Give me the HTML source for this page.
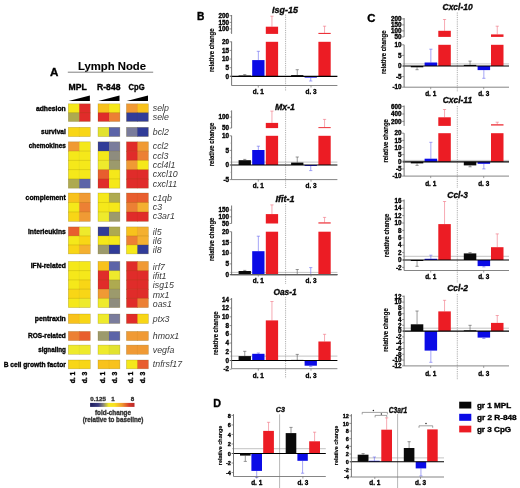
<!DOCTYPE html>
<html><head><meta charset="utf-8"><style>
html,body{margin:0;padding:0;background:#fff;}
body{width:520px;height:488px;overflow:hidden;}
svg{display:block;font-family:"Liberation Sans", sans-serif;will-change:transform;filter:blur(0.3px);}
</style></head><body>
<svg width="520" height="488" viewBox="0 0 520 488">
<rect x="0" y="0" width="520" height="488" fill="#fff"/>
<rect x="68.30" y="103.80" width="11.60" height="9.45" fill="#f5e81a" />
<rect x="79.30" y="103.80" width="11.00" height="9.45" fill="#e02c2a" />
<rect x="98.00" y="103.80" width="11.60" height="9.45" fill="#f8c21c" />
<rect x="109.00" y="103.80" width="10.90" height="9.45" fill="#f5e81a" />
<rect x="126.40" y="103.80" width="11.60" height="9.45" fill="#f09a34" />
<rect x="137.40" y="103.80" width="11.00" height="9.45" fill="#f8c21c" />
<rect x="68.30" y="112.65" width="11.60" height="8.85" fill="#aeaa50" />
<rect x="79.30" y="112.65" width="11.00" height="8.85" fill="#e02c2a" />
<rect x="98.00" y="112.65" width="11.60" height="8.85" fill="#e02c2a" />
<rect x="109.00" y="112.65" width="10.90" height="8.85" fill="#ec8034" />
<rect x="126.40" y="112.65" width="11.60" height="8.85" fill="#313c98" />
<rect x="137.40" y="112.65" width="11.00" height="8.85" fill="#313c98" />
<rect x="68.30" y="103.80" width="22.00" height="17.70" fill="none" stroke="rgba(110,90,0,0.35)" stroke-width="0.6"/>
<line x1="79.30" y1="103.80" x2="79.30" y2="121.50" stroke="rgba(110,90,0,0.12)" stroke-width="0.5" />
<line x1="68.30" y1="112.65" x2="90.30" y2="112.65" stroke="rgba(110,90,0,0.3)" stroke-width="0.6" />
<rect x="98.00" y="103.80" width="21.90" height="17.70" fill="none" stroke="rgba(110,90,0,0.35)" stroke-width="0.6"/>
<line x1="109.00" y1="103.80" x2="109.00" y2="121.50" stroke="rgba(110,90,0,0.12)" stroke-width="0.5" />
<line x1="98.00" y1="112.65" x2="119.90" y2="112.65" stroke="rgba(110,90,0,0.3)" stroke-width="0.6" />
<rect x="126.40" y="103.80" width="22.00" height="17.70" fill="none" stroke="rgba(110,90,0,0.35)" stroke-width="0.6"/>
<line x1="137.40" y1="103.80" x2="137.40" y2="121.50" stroke="rgba(110,90,0,0.12)" stroke-width="0.5" />
<line x1="126.40" y1="112.65" x2="148.40" y2="112.65" stroke="rgba(110,90,0,0.3)" stroke-width="0.6" />
<rect x="68.30" y="127.30" width="11.60" height="9.30" fill="#f8d616" />
<rect x="79.30" y="127.30" width="11.00" height="9.30" fill="#f8d616" />
<rect x="98.00" y="127.30" width="11.60" height="9.30" fill="#e2e230" />
<rect x="109.00" y="127.30" width="10.90" height="9.30" fill="#5c64a8" />
<rect x="126.40" y="127.30" width="11.60" height="9.30" fill="#7a7c9c" />
<rect x="137.40" y="127.30" width="11.00" height="9.30" fill="#313c98" />
<rect x="68.30" y="127.30" width="22.00" height="9.30" fill="none" stroke="rgba(110,90,0,0.35)" stroke-width="0.6"/>
<line x1="79.30" y1="127.30" x2="79.30" y2="136.60" stroke="rgba(110,90,0,0.12)" stroke-width="0.5" />
<rect x="98.00" y="127.30" width="21.90" height="9.30" fill="none" stroke="rgba(110,90,0,0.35)" stroke-width="0.6"/>
<line x1="109.00" y1="127.30" x2="109.00" y2="136.60" stroke="rgba(110,90,0,0.12)" stroke-width="0.5" />
<rect x="126.40" y="127.30" width="22.00" height="9.30" fill="none" stroke="rgba(110,90,0,0.35)" stroke-width="0.6"/>
<line x1="137.40" y1="127.30" x2="137.40" y2="136.60" stroke="rgba(110,90,0,0.12)" stroke-width="0.5" />
<rect x="68.30" y="141.80" width="11.60" height="9.88" fill="#f09a34" />
<rect x="79.30" y="141.80" width="11.00" height="9.88" fill="#f5e81a" />
<rect x="98.00" y="141.80" width="11.60" height="9.88" fill="#313c98" />
<rect x="109.00" y="141.80" width="10.90" height="9.88" fill="#7a7c9c" />
<rect x="126.40" y="141.80" width="11.60" height="9.88" fill="#e02c2a" />
<rect x="137.40" y="141.80" width="11.00" height="9.88" fill="#f09a34" />
<rect x="68.30" y="151.08" width="11.60" height="9.88" fill="#f5e81a" />
<rect x="79.30" y="151.08" width="11.00" height="9.88" fill="#f5e81a" />
<rect x="98.00" y="151.08" width="11.60" height="9.88" fill="#f5e81a" />
<rect x="109.00" y="151.08" width="10.90" height="9.88" fill="#8e8c7e" />
<rect x="126.40" y="151.08" width="11.60" height="9.88" fill="#e02c2a" />
<rect x="137.40" y="151.08" width="11.00" height="9.88" fill="#ec8034" />
<rect x="68.30" y="160.36" width="11.60" height="9.88" fill="#f5e81a" />
<rect x="79.30" y="160.36" width="11.00" height="9.88" fill="#f5e81a" />
<rect x="98.00" y="160.36" width="11.60" height="9.88" fill="#eeea2c" />
<rect x="109.00" y="160.36" width="10.90" height="9.88" fill="#9c9a6c" />
<rect x="126.40" y="160.36" width="11.60" height="9.88" fill="#f09a34" />
<rect x="137.40" y="160.36" width="11.00" height="9.88" fill="#f5e81a" />
<rect x="68.30" y="169.64" width="11.60" height="9.88" fill="#f5e81a" />
<rect x="79.30" y="169.64" width="11.00" height="9.88" fill="#f5e81a" />
<rect x="98.00" y="169.64" width="11.60" height="9.88" fill="#e85e2e" />
<rect x="109.00" y="169.64" width="10.90" height="9.88" fill="#f5e81a" />
<rect x="126.40" y="169.64" width="11.60" height="9.88" fill="#e02c2a" />
<rect x="137.40" y="169.64" width="11.00" height="9.88" fill="#e02c2a" />
<rect x="68.30" y="178.92" width="11.60" height="9.28" fill="#aeaa50" />
<rect x="79.30" y="178.92" width="11.00" height="9.28" fill="#5c64a8" />
<rect x="98.00" y="178.92" width="11.60" height="9.28" fill="#e02c2a" />
<rect x="109.00" y="178.92" width="10.90" height="9.28" fill="#f5e81a" />
<rect x="126.40" y="178.92" width="11.60" height="9.28" fill="#e02c2a" />
<rect x="137.40" y="178.92" width="11.00" height="9.28" fill="#e02c2a" />
<rect x="68.30" y="141.80" width="22.00" height="46.40" fill="none" stroke="rgba(110,90,0,0.35)" stroke-width="0.6"/>
<line x1="79.30" y1="141.80" x2="79.30" y2="188.20" stroke="rgba(110,90,0,0.12)" stroke-width="0.5" />
<line x1="68.30" y1="151.08" x2="90.30" y2="151.08" stroke="rgba(110,90,0,0.3)" stroke-width="0.6" />
<line x1="68.30" y1="160.36" x2="90.30" y2="160.36" stroke="rgba(110,90,0,0.3)" stroke-width="0.6" />
<line x1="68.30" y1="169.64" x2="90.30" y2="169.64" stroke="rgba(110,90,0,0.3)" stroke-width="0.6" />
<line x1="68.30" y1="178.92" x2="90.30" y2="178.92" stroke="rgba(110,90,0,0.3)" stroke-width="0.6" />
<rect x="98.00" y="141.80" width="21.90" height="46.40" fill="none" stroke="rgba(110,90,0,0.35)" stroke-width="0.6"/>
<line x1="109.00" y1="141.80" x2="109.00" y2="188.20" stroke="rgba(110,90,0,0.12)" stroke-width="0.5" />
<line x1="98.00" y1="151.08" x2="119.90" y2="151.08" stroke="rgba(110,90,0,0.3)" stroke-width="0.6" />
<line x1="98.00" y1="160.36" x2="119.90" y2="160.36" stroke="rgba(110,90,0,0.3)" stroke-width="0.6" />
<line x1="98.00" y1="169.64" x2="119.90" y2="169.64" stroke="rgba(110,90,0,0.3)" stroke-width="0.6" />
<line x1="98.00" y1="178.92" x2="119.90" y2="178.92" stroke="rgba(110,90,0,0.3)" stroke-width="0.6" />
<rect x="126.40" y="141.80" width="22.00" height="46.40" fill="none" stroke="rgba(110,90,0,0.35)" stroke-width="0.6"/>
<line x1="137.40" y1="141.80" x2="137.40" y2="188.20" stroke="rgba(110,90,0,0.12)" stroke-width="0.5" />
<line x1="126.40" y1="151.08" x2="148.40" y2="151.08" stroke="rgba(110,90,0,0.3)" stroke-width="0.6" />
<line x1="126.40" y1="160.36" x2="148.40" y2="160.36" stroke="rgba(110,90,0,0.3)" stroke-width="0.6" />
<line x1="126.40" y1="169.64" x2="148.40" y2="169.64" stroke="rgba(110,90,0,0.3)" stroke-width="0.6" />
<line x1="126.40" y1="178.92" x2="148.40" y2="178.92" stroke="rgba(110,90,0,0.3)" stroke-width="0.6" />
<rect x="68.30" y="193.00" width="11.60" height="10.07" fill="#f8c21c" />
<rect x="79.30" y="193.00" width="11.00" height="10.07" fill="#f09a34" />
<rect x="98.00" y="193.00" width="11.60" height="10.07" fill="#f5e81a" />
<rect x="109.00" y="193.00" width="10.90" height="10.07" fill="#aeaa50" />
<rect x="126.40" y="193.00" width="11.60" height="10.07" fill="#e85e2e" />
<rect x="137.40" y="193.00" width="11.00" height="10.07" fill="#e85e2e" />
<rect x="68.30" y="202.47" width="11.60" height="10.07" fill="#f5e81a" />
<rect x="79.30" y="202.47" width="11.00" height="10.07" fill="#ec8034" />
<rect x="98.00" y="202.47" width="11.60" height="10.07" fill="#f5e81a" />
<rect x="109.00" y="202.47" width="10.90" height="10.07" fill="#f5e81a" />
<rect x="126.40" y="202.47" width="11.60" height="10.07" fill="#ec8034" />
<rect x="137.40" y="202.47" width="11.00" height="10.07" fill="#f4b030" />
<rect x="68.30" y="211.93" width="11.60" height="9.47" fill="#f8d616" />
<rect x="79.30" y="211.93" width="11.00" height="9.47" fill="#f09a34" />
<rect x="98.00" y="211.93" width="11.60" height="9.47" fill="#eeea2c" />
<rect x="109.00" y="211.93" width="10.90" height="9.47" fill="#9c9a6c" />
<rect x="126.40" y="211.93" width="11.60" height="9.47" fill="#e02c2a" />
<rect x="137.40" y="211.93" width="11.00" height="9.47" fill="#e02c2a" />
<rect x="68.30" y="193.00" width="22.00" height="28.40" fill="none" stroke="rgba(110,90,0,0.35)" stroke-width="0.6"/>
<line x1="79.30" y1="193.00" x2="79.30" y2="221.40" stroke="rgba(110,90,0,0.12)" stroke-width="0.5" />
<line x1="68.30" y1="202.47" x2="90.30" y2="202.47" stroke="rgba(110,90,0,0.3)" stroke-width="0.6" />
<line x1="68.30" y1="211.93" x2="90.30" y2="211.93" stroke="rgba(110,90,0,0.3)" stroke-width="0.6" />
<rect x="98.00" y="193.00" width="21.90" height="28.40" fill="none" stroke="rgba(110,90,0,0.35)" stroke-width="0.6"/>
<line x1="109.00" y1="193.00" x2="109.00" y2="221.40" stroke="rgba(110,90,0,0.12)" stroke-width="0.5" />
<line x1="98.00" y1="202.47" x2="119.90" y2="202.47" stroke="rgba(110,90,0,0.3)" stroke-width="0.6" />
<line x1="98.00" y1="211.93" x2="119.90" y2="211.93" stroke="rgba(110,90,0,0.3)" stroke-width="0.6" />
<rect x="126.40" y="193.00" width="22.00" height="28.40" fill="none" stroke="rgba(110,90,0,0.35)" stroke-width="0.6"/>
<line x1="137.40" y1="193.00" x2="137.40" y2="221.40" stroke="rgba(110,90,0,0.12)" stroke-width="0.5" />
<line x1="126.40" y1="202.47" x2="148.40" y2="202.47" stroke="rgba(110,90,0,0.3)" stroke-width="0.6" />
<line x1="126.40" y1="211.93" x2="148.40" y2="211.93" stroke="rgba(110,90,0,0.3)" stroke-width="0.6" />
<rect x="68.30" y="226.90" width="11.60" height="9.60" fill="#e85e2e" />
<rect x="79.30" y="226.90" width="11.00" height="9.60" fill="#eeea2c" />
<rect x="98.00" y="226.90" width="11.60" height="9.60" fill="#313c98" />
<rect x="109.00" y="226.90" width="10.90" height="9.60" fill="#aeaa50" />
<rect x="126.40" y="226.90" width="11.60" height="9.60" fill="#f8c21c" />
<rect x="137.40" y="226.90" width="11.00" height="9.60" fill="#f4b030" />
<rect x="68.30" y="235.90" width="11.60" height="9.60" fill="#f5e81a" />
<rect x="79.30" y="235.90" width="11.00" height="9.60" fill="#f8d616" />
<rect x="98.00" y="235.90" width="11.60" height="9.60" fill="#f5e81a" />
<rect x="109.00" y="235.90" width="10.90" height="9.60" fill="#f5e81a" />
<rect x="126.40" y="235.90" width="11.60" height="9.60" fill="#ec8034" />
<rect x="137.40" y="235.90" width="11.00" height="9.60" fill="#f4b030" />
<rect x="68.30" y="244.90" width="11.60" height="9.00" fill="#f8d616" />
<rect x="79.30" y="244.90" width="11.00" height="9.00" fill="#f4b030" />
<rect x="98.00" y="244.90" width="11.60" height="9.00" fill="#9c9a6c" />
<rect x="109.00" y="244.90" width="10.90" height="9.00" fill="#313c98" />
<rect x="126.40" y="244.90" width="11.60" height="9.00" fill="#f5e81a" />
<rect x="137.40" y="244.90" width="11.00" height="9.00" fill="#313c98" />
<rect x="68.30" y="226.90" width="22.00" height="27.00" fill="none" stroke="rgba(110,90,0,0.35)" stroke-width="0.6"/>
<line x1="79.30" y1="226.90" x2="79.30" y2="253.90" stroke="rgba(110,90,0,0.12)" stroke-width="0.5" />
<line x1="68.30" y1="235.90" x2="90.30" y2="235.90" stroke="rgba(110,90,0,0.3)" stroke-width="0.6" />
<line x1="68.30" y1="244.90" x2="90.30" y2="244.90" stroke="rgba(110,90,0,0.3)" stroke-width="0.6" />
<rect x="98.00" y="226.90" width="21.90" height="27.00" fill="none" stroke="rgba(110,90,0,0.35)" stroke-width="0.6"/>
<line x1="109.00" y1="226.90" x2="109.00" y2="253.90" stroke="rgba(110,90,0,0.12)" stroke-width="0.5" />
<line x1="98.00" y1="235.90" x2="119.90" y2="235.90" stroke="rgba(110,90,0,0.3)" stroke-width="0.6" />
<line x1="98.00" y1="244.90" x2="119.90" y2="244.90" stroke="rgba(110,90,0,0.3)" stroke-width="0.6" />
<rect x="126.40" y="226.90" width="22.00" height="27.00" fill="none" stroke="rgba(110,90,0,0.35)" stroke-width="0.6"/>
<line x1="137.40" y1="226.90" x2="137.40" y2="253.90" stroke="rgba(110,90,0,0.12)" stroke-width="0.5" />
<line x1="126.40" y1="235.90" x2="148.40" y2="235.90" stroke="rgba(110,90,0,0.3)" stroke-width="0.6" />
<line x1="126.40" y1="244.90" x2="148.40" y2="244.90" stroke="rgba(110,90,0,0.3)" stroke-width="0.6" />
<rect x="68.30" y="261.40" width="11.60" height="9.84" fill="#f5e81a" />
<rect x="79.30" y="261.40" width="11.00" height="9.84" fill="#f5e81a" />
<rect x="98.00" y="261.40" width="11.60" height="9.84" fill="#f8c21c" />
<rect x="109.00" y="261.40" width="10.90" height="9.84" fill="#5c64a8" />
<rect x="126.40" y="261.40" width="11.60" height="9.84" fill="#e02c2a" />
<rect x="137.40" y="261.40" width="11.00" height="9.84" fill="#f09a34" />
<rect x="68.30" y="270.64" width="11.60" height="9.84" fill="#f5e81a" />
<rect x="79.30" y="270.64" width="11.00" height="9.84" fill="#f5e81a" />
<rect x="98.00" y="270.64" width="11.60" height="9.84" fill="#e02c2a" />
<rect x="109.00" y="270.64" width="10.90" height="9.84" fill="#eeea2c" />
<rect x="126.40" y="270.64" width="11.60" height="9.84" fill="#e02c2a" />
<rect x="137.40" y="270.64" width="11.00" height="9.84" fill="#e02c2a" />
<rect x="68.30" y="279.88" width="11.60" height="9.84" fill="#f5e81a" />
<rect x="79.30" y="279.88" width="11.00" height="9.84" fill="#f8d616" />
<rect x="98.00" y="279.88" width="11.60" height="9.84" fill="#e02c2a" />
<rect x="109.00" y="279.88" width="10.90" height="9.84" fill="#aeaa50" />
<rect x="126.40" y="279.88" width="11.60" height="9.84" fill="#e02c2a" />
<rect x="137.40" y="279.88" width="11.00" height="9.84" fill="#e02c2a" />
<rect x="68.30" y="289.12" width="11.60" height="9.84" fill="#f8d616" />
<rect x="79.30" y="289.12" width="11.00" height="9.84" fill="#f8d616" />
<rect x="98.00" y="289.12" width="11.60" height="9.84" fill="#f09a34" />
<rect x="109.00" y="289.12" width="10.90" height="9.84" fill="#9c9a6c" />
<rect x="126.40" y="289.12" width="11.60" height="9.84" fill="#e02c2a" />
<rect x="137.40" y="289.12" width="11.00" height="9.84" fill="#e02c2a" />
<rect x="68.30" y="298.36" width="11.60" height="9.24" fill="#f5e81a" />
<rect x="79.30" y="298.36" width="11.00" height="9.24" fill="#eeea2c" />
<rect x="98.00" y="298.36" width="11.60" height="9.24" fill="#eeea2c" />
<rect x="109.00" y="298.36" width="10.90" height="9.24" fill="#8e8c7e" />
<rect x="126.40" y="298.36" width="11.60" height="9.24" fill="#e02c2a" />
<rect x="137.40" y="298.36" width="11.00" height="9.24" fill="#ec8034" />
<rect x="68.30" y="261.40" width="22.00" height="46.20" fill="none" stroke="rgba(110,90,0,0.35)" stroke-width="0.6"/>
<line x1="79.30" y1="261.40" x2="79.30" y2="307.60" stroke="rgba(110,90,0,0.12)" stroke-width="0.5" />
<line x1="68.30" y1="270.64" x2="90.30" y2="270.64" stroke="rgba(110,90,0,0.3)" stroke-width="0.6" />
<line x1="68.30" y1="279.88" x2="90.30" y2="279.88" stroke="rgba(110,90,0,0.3)" stroke-width="0.6" />
<line x1="68.30" y1="289.12" x2="90.30" y2="289.12" stroke="rgba(110,90,0,0.3)" stroke-width="0.6" />
<line x1="68.30" y1="298.36" x2="90.30" y2="298.36" stroke="rgba(110,90,0,0.3)" stroke-width="0.6" />
<rect x="98.00" y="261.40" width="21.90" height="46.20" fill="none" stroke="rgba(110,90,0,0.35)" stroke-width="0.6"/>
<line x1="109.00" y1="261.40" x2="109.00" y2="307.60" stroke="rgba(110,90,0,0.12)" stroke-width="0.5" />
<line x1="98.00" y1="270.64" x2="119.90" y2="270.64" stroke="rgba(110,90,0,0.3)" stroke-width="0.6" />
<line x1="98.00" y1="279.88" x2="119.90" y2="279.88" stroke="rgba(110,90,0,0.3)" stroke-width="0.6" />
<line x1="98.00" y1="289.12" x2="119.90" y2="289.12" stroke="rgba(110,90,0,0.3)" stroke-width="0.6" />
<line x1="98.00" y1="298.36" x2="119.90" y2="298.36" stroke="rgba(110,90,0,0.3)" stroke-width="0.6" />
<rect x="126.40" y="261.40" width="22.00" height="46.20" fill="none" stroke="rgba(110,90,0,0.35)" stroke-width="0.6"/>
<line x1="137.40" y1="261.40" x2="137.40" y2="307.60" stroke="rgba(110,90,0,0.12)" stroke-width="0.5" />
<line x1="126.40" y1="270.64" x2="148.40" y2="270.64" stroke="rgba(110,90,0,0.3)" stroke-width="0.6" />
<line x1="126.40" y1="279.88" x2="148.40" y2="279.88" stroke="rgba(110,90,0,0.3)" stroke-width="0.6" />
<line x1="126.40" y1="289.12" x2="148.40" y2="289.12" stroke="rgba(110,90,0,0.3)" stroke-width="0.6" />
<line x1="126.40" y1="298.36" x2="148.40" y2="298.36" stroke="rgba(110,90,0,0.3)" stroke-width="0.6" />
<rect x="68.30" y="314.00" width="11.60" height="9.50" fill="#f8c21c" />
<rect x="79.30" y="314.00" width="11.00" height="9.50" fill="#f8d616" />
<rect x="98.00" y="314.00" width="11.60" height="9.50" fill="#eeea2c" />
<rect x="109.00" y="314.00" width="10.90" height="9.50" fill="#7a7c9c" />
<rect x="126.40" y="314.00" width="11.60" height="9.50" fill="#e02c2a" />
<rect x="137.40" y="314.00" width="11.00" height="9.50" fill="#f8d616" />
<rect x="68.30" y="314.00" width="22.00" height="9.50" fill="none" stroke="rgba(110,90,0,0.35)" stroke-width="0.6"/>
<line x1="79.30" y1="314.00" x2="79.30" y2="323.50" stroke="rgba(110,90,0,0.12)" stroke-width="0.5" />
<rect x="98.00" y="314.00" width="21.90" height="9.50" fill="none" stroke="rgba(110,90,0,0.35)" stroke-width="0.6"/>
<line x1="109.00" y1="314.00" x2="109.00" y2="323.50" stroke="rgba(110,90,0,0.12)" stroke-width="0.5" />
<rect x="126.40" y="314.00" width="22.00" height="9.50" fill="none" stroke="rgba(110,90,0,0.35)" stroke-width="0.6"/>
<line x1="137.40" y1="314.00" x2="137.40" y2="323.50" stroke="rgba(110,90,0,0.12)" stroke-width="0.5" />
<rect x="68.30" y="331.40" width="11.60" height="9.20" fill="#ec8034" />
<rect x="79.30" y="331.40" width="11.00" height="9.20" fill="#e85e2e" />
<rect x="98.00" y="331.40" width="11.60" height="9.20" fill="#9c9a6c" />
<rect x="109.00" y="331.40" width="10.90" height="9.20" fill="#5c64a8" />
<rect x="126.40" y="331.40" width="11.60" height="9.20" fill="#f09a34" />
<rect x="137.40" y="331.40" width="11.00" height="9.20" fill="#f09a34" />
<rect x="68.30" y="331.40" width="22.00" height="9.20" fill="none" stroke="rgba(110,90,0,0.35)" stroke-width="0.6"/>
<line x1="79.30" y1="331.40" x2="79.30" y2="340.60" stroke="rgba(110,90,0,0.12)" stroke-width="0.5" />
<rect x="98.00" y="331.40" width="21.90" height="9.20" fill="none" stroke="rgba(110,90,0,0.35)" stroke-width="0.6"/>
<line x1="109.00" y1="331.40" x2="109.00" y2="340.60" stroke="rgba(110,90,0,0.12)" stroke-width="0.5" />
<rect x="126.40" y="331.40" width="22.00" height="9.20" fill="none" stroke="rgba(110,90,0,0.35)" stroke-width="0.6"/>
<line x1="137.40" y1="331.40" x2="137.40" y2="340.60" stroke="rgba(110,90,0,0.12)" stroke-width="0.5" />
<rect x="68.30" y="345.10" width="11.60" height="9.20" fill="#eeea2c" />
<rect x="79.30" y="345.10" width="11.00" height="9.20" fill="#eeea2c" />
<rect x="98.00" y="345.10" width="11.60" height="9.20" fill="#eeea2c" />
<rect x="109.00" y="345.10" width="10.90" height="9.20" fill="#e2e230" />
<rect x="126.40" y="345.10" width="11.60" height="9.20" fill="#f09a34" />
<rect x="137.40" y="345.10" width="11.00" height="9.20" fill="#f09a34" />
<rect x="68.30" y="345.10" width="22.00" height="9.20" fill="none" stroke="rgba(110,90,0,0.35)" stroke-width="0.6"/>
<line x1="79.30" y1="345.10" x2="79.30" y2="354.30" stroke="rgba(110,90,0,0.12)" stroke-width="0.5" />
<rect x="98.00" y="345.10" width="21.90" height="9.20" fill="none" stroke="rgba(110,90,0,0.35)" stroke-width="0.6"/>
<line x1="109.00" y1="345.10" x2="109.00" y2="354.30" stroke="rgba(110,90,0,0.12)" stroke-width="0.5" />
<rect x="126.40" y="345.10" width="22.00" height="9.20" fill="none" stroke="rgba(110,90,0,0.35)" stroke-width="0.6"/>
<line x1="137.40" y1="345.10" x2="137.40" y2="354.30" stroke="rgba(110,90,0,0.12)" stroke-width="0.5" />
<rect x="68.30" y="360.00" width="11.60" height="8.80" fill="#f8d616" />
<rect x="79.30" y="360.00" width="11.00" height="8.80" fill="#f8d616" />
<rect x="98.00" y="360.00" width="11.60" height="8.80" fill="#f8c21c" />
<rect x="109.00" y="360.00" width="10.90" height="8.80" fill="#f8c21c" />
<rect x="126.40" y="360.00" width="11.60" height="8.80" fill="#f5e81a" />
<rect x="137.40" y="360.00" width="11.00" height="8.80" fill="#e85e2e" />
<rect x="68.30" y="360.00" width="22.00" height="8.80" fill="none" stroke="rgba(110,90,0,0.35)" stroke-width="0.6"/>
<line x1="79.30" y1="360.00" x2="79.30" y2="368.80" stroke="rgba(110,90,0,0.12)" stroke-width="0.5" />
<rect x="98.00" y="360.00" width="21.90" height="8.80" fill="none" stroke="rgba(110,90,0,0.35)" stroke-width="0.6"/>
<line x1="109.00" y1="360.00" x2="109.00" y2="368.80" stroke="rgba(110,90,0,0.12)" stroke-width="0.5" />
<rect x="126.40" y="360.00" width="22.00" height="8.80" fill="none" stroke="rgba(110,90,0,0.35)" stroke-width="0.6"/>
<line x1="137.40" y1="360.00" x2="137.40" y2="368.80" stroke="rgba(110,90,0,0.12)" stroke-width="0.5" />
<polygon points="68.60,100.9 89.90,95.6 89.90,101.0 68.60,101.0" fill="#000"/>
<polygon points="98.30,100.9 119.50,95.6 119.50,101.0 98.30,101.0" fill="#000"/>
<polygon points="126.70,100.9 148.00,95.6 148.00,101.0 126.70,101.0" fill="#000"/>
<text x="68.60" y="90.40" font-size="8.4" font-weight="bold" font-style="normal" text-anchor="start" fill="#000" textLength="18.20" lengthAdjust="spacingAndGlyphs" stroke="#000" stroke-width="0.35" >MPL</text>
<text x="97.10" y="89.90" font-size="8.4" font-weight="bold" font-style="normal" text-anchor="start" fill="#000" textLength="23.30" lengthAdjust="spacingAndGlyphs" stroke="#000" stroke-width="0.35" >R-848</text>
<text x="128.50" y="89.50" font-size="8.4" font-weight="bold" font-style="normal" text-anchor="start" fill="#000" textLength="16.10" lengthAdjust="spacingAndGlyphs" stroke="#000" stroke-width="0.35" >CpG</text>
<text x="77.90" y="69.70" font-size="10.6" font-weight="bold" font-style="normal" text-anchor="start" fill="#000" textLength="68.20" lengthAdjust="spacingAndGlyphs" stroke="#000" stroke-width="0.1">Lymph Node</text>
<line x1="67.80" y1="72.20" x2="153.20" y2="72.20" stroke="#808080" stroke-width="1.0" />
<text x="50.10" y="75.80" font-size="11.8" font-weight="bold" font-style="normal" text-anchor="start" fill="#000" textLength="8.40" lengthAdjust="spacingAndGlyphs" stroke="#000" stroke-width="0.35" >A</text>
<text x="65.80" y="110.70" font-size="7.0" font-weight="bold" font-style="normal" text-anchor="end" fill="#000" textLength="29.90" lengthAdjust="spacingAndGlyphs" stroke="#000" stroke-width="0.35" >adhesion</text>
<text x="65.80" y="134.30" font-size="7.0" font-weight="bold" font-style="normal" text-anchor="end" fill="#000" textLength="24.80" lengthAdjust="spacingAndGlyphs" stroke="#000" stroke-width="0.35" >survival</text>
<text x="65.80" y="147.60" font-size="7.0" font-weight="bold" font-style="normal" text-anchor="end" fill="#000" textLength="37.10" lengthAdjust="spacingAndGlyphs" stroke="#000" stroke-width="0.35" >chemokines</text>
<text x="65.80" y="199.70" font-size="7.0" font-weight="bold" font-style="normal" text-anchor="end" fill="#000" textLength="40.20" lengthAdjust="spacingAndGlyphs" stroke="#000" stroke-width="0.35" >complement</text>
<text x="65.80" y="234.10" font-size="7.0" font-weight="bold" font-style="normal" text-anchor="end" fill="#000" textLength="37.80" lengthAdjust="spacingAndGlyphs" stroke="#000" stroke-width="0.35" >interleukins</text>
<text x="65.80" y="268.40" font-size="7.0" font-weight="bold" font-style="normal" text-anchor="end" fill="#000" textLength="35.10" lengthAdjust="spacingAndGlyphs" stroke="#000" stroke-width="0.35" >IFN-related</text>
<text x="65.80" y="321.30" font-size="7.0" font-weight="bold" font-style="normal" text-anchor="end" fill="#000" textLength="31.00" lengthAdjust="spacingAndGlyphs" stroke="#000" stroke-width="0.35" >pentraxin</text>
<text x="65.80" y="338.30" font-size="7.0" font-weight="bold" font-style="normal" text-anchor="end" fill="#000" textLength="37.80" lengthAdjust="spacingAndGlyphs" stroke="#000" stroke-width="0.35" >ROS-related</text>
<text x="65.80" y="351.60" font-size="7.0" font-weight="bold" font-style="normal" text-anchor="end" fill="#000" textLength="27.50" lengthAdjust="spacingAndGlyphs" stroke="#000" stroke-width="0.35" >signaling</text>
<text x="65.80" y="366.90" font-size="7.0" font-weight="bold" font-style="normal" text-anchor="end" fill="#000" textLength="62.10" lengthAdjust="spacingAndGlyphs" stroke="#000" stroke-width="0.35" >B cell growth factor</text>
<text x="152.80" y="110.70" font-size="8.8" font-weight="normal" font-style="italic" text-anchor="start" fill="#3a3a3a" >selp</text>
<text x="152.80" y="119.90" font-size="8.8" font-weight="normal" font-style="italic" text-anchor="start" fill="#3a3a3a" >sele</text>
<text x="152.80" y="134.90" font-size="8.8" font-weight="normal" font-style="italic" text-anchor="start" fill="#3a3a3a" >bcl2</text>
<text x="152.80" y="149.20" font-size="8.8" font-weight="normal" font-style="italic" text-anchor="start" fill="#3a3a3a" >ccl2</text>
<text x="152.80" y="158.50" font-size="8.8" font-weight="normal" font-style="italic" text-anchor="start" fill="#3a3a3a" >ccl3</text>
<text x="152.80" y="167.70" font-size="8.8" font-weight="normal" font-style="italic" text-anchor="start" fill="#3a3a3a" >ccl4l1</text>
<text x="152.80" y="176.90" font-size="8.8" font-weight="normal" font-style="italic" text-anchor="start" fill="#3a3a3a" >cxcl10</text>
<text x="152.80" y="186.50" font-size="8.8" font-weight="normal" font-style="italic" text-anchor="start" fill="#3a3a3a" >cxcl11</text>
<text x="152.80" y="200.70" font-size="8.8" font-weight="normal" font-style="italic" text-anchor="start" fill="#3a3a3a" >c1qb</text>
<text x="152.80" y="209.90" font-size="8.8" font-weight="normal" font-style="italic" text-anchor="start" fill="#3a3a3a" >c3</text>
<text x="152.80" y="219.10" font-size="8.8" font-weight="normal" font-style="italic" text-anchor="start" fill="#3a3a3a" >c3ar1</text>
<text x="152.80" y="234.70" font-size="8.8" font-weight="normal" font-style="italic" text-anchor="start" fill="#3a3a3a" >il5</text>
<text x="152.80" y="243.70" font-size="8.8" font-weight="normal" font-style="italic" text-anchor="start" fill="#3a3a3a" >il6</text>
<text x="152.80" y="253.40" font-size="8.8" font-weight="normal" font-style="italic" text-anchor="start" fill="#3a3a3a" >il8</text>
<text x="152.80" y="269.60" font-size="8.8" font-weight="normal" font-style="italic" text-anchor="start" fill="#3a3a3a" >irf7</text>
<text x="152.80" y="279.00" font-size="8.8" font-weight="normal" font-style="italic" text-anchor="start" fill="#3a3a3a" >ifit1</text>
<text x="152.80" y="288.40" font-size="8.8" font-weight="normal" font-style="italic" text-anchor="start" fill="#3a3a3a" >isg15</text>
<text x="152.80" y="298.00" font-size="8.8" font-weight="normal" font-style="italic" text-anchor="start" fill="#3a3a3a" >mx1</text>
<text x="152.80" y="307.20" font-size="8.8" font-weight="normal" font-style="italic" text-anchor="start" fill="#3a3a3a" >oas1</text>
<text x="152.80" y="322.20" font-size="8.8" font-weight="normal" font-style="italic" text-anchor="start" fill="#3a3a3a" >ptx3</text>
<text x="152.80" y="339.00" font-size="8.8" font-weight="normal" font-style="italic" text-anchor="start" fill="#3a3a3a" >hmox1</text>
<text x="152.80" y="352.50" font-size="8.8" font-weight="normal" font-style="italic" text-anchor="start" fill="#3a3a3a" >vegfa</text>
<text x="152.80" y="367.30" font-size="8.8" font-weight="normal" font-style="italic" text-anchor="start" fill="#3a3a3a" >tnfrsf17</text>
<text x="75.40" y="383.30" font-size="7.0" font-weight="bold" font-style="normal" text-anchor="start" fill="#000" textLength="11.60" lengthAdjust="spacingAndGlyphs" transform="rotate(-90 75.40 383.30)" stroke="#000" stroke-width="0.35" >d. 1</text>
<text x="87.35" y="383.30" font-size="7.0" font-weight="bold" font-style="normal" text-anchor="start" fill="#000" textLength="11.60" lengthAdjust="spacingAndGlyphs" transform="rotate(-90 87.35 383.30)" stroke="#000" stroke-width="0.35" >d. 3</text>
<text x="105.10" y="383.30" font-size="7.0" font-weight="bold" font-style="normal" text-anchor="start" fill="#000" textLength="11.60" lengthAdjust="spacingAndGlyphs" transform="rotate(-90 105.10 383.30)" stroke="#000" stroke-width="0.35" >d. 1</text>
<text x="117.00" y="383.30" font-size="7.0" font-weight="bold" font-style="normal" text-anchor="start" fill="#000" textLength="11.60" lengthAdjust="spacingAndGlyphs" transform="rotate(-90 117.00 383.30)" stroke="#000" stroke-width="0.35" >d. 3</text>
<text x="133.50" y="383.30" font-size="7.0" font-weight="bold" font-style="normal" text-anchor="start" fill="#000" textLength="11.60" lengthAdjust="spacingAndGlyphs" transform="rotate(-90 133.50 383.30)" stroke="#000" stroke-width="0.35" >d. 1</text>
<text x="145.45" y="383.30" font-size="7.0" font-weight="bold" font-style="normal" text-anchor="start" fill="#000" textLength="11.60" lengthAdjust="spacingAndGlyphs" transform="rotate(-90 145.45 383.30)" stroke="#000" stroke-width="0.35" >d. 3</text>
<defs><linearGradient id="cb" x1="0" x2="1" y1="0" y2="0"><stop offset="0" stop-color="#1c1c5c"/><stop offset="0.18" stop-color="#3a3a80"/><stop offset="0.3" stop-color="#8a8878"/><stop offset="0.42" stop-color="#f2ea24"/><stop offset="0.55" stop-color="#f8e020"/><stop offset="0.72" stop-color="#f09a30"/><stop offset="0.88" stop-color="#d83a2a"/><stop offset="1" stop-color="#b82828"/></linearGradient></defs>
<rect x="90.10" y="402.90" width="44.40" height="4.00" fill="url(#cb)" />
<text x="90.30" y="400.60" font-size="6.2" font-weight="bold" font-style="normal" text-anchor="start" fill="#333" textLength="15.60" lengthAdjust="spacingAndGlyphs" stroke="#333" stroke-width="0.35" >0.125</text>
<text x="113.00" y="400.60" font-size="6.2" font-weight="bold" font-style="normal" text-anchor="middle" fill="#333" stroke="#333" stroke-width="0.35" >1</text>
<text x="132.40" y="400.60" font-size="6.2" font-weight="bold" font-style="normal" text-anchor="middle" fill="#333" stroke="#333" stroke-width="0.35" >8</text>
<text x="113.00" y="414.80" font-size="6.6" font-weight="bold" font-style="normal" text-anchor="middle" fill="#333" textLength="36.00" lengthAdjust="spacingAndGlyphs" stroke="#333" stroke-width="0.35" >fold-change</text>
<text x="113.00" y="421.80" font-size="6.6" font-weight="bold" font-style="normal" text-anchor="middle" fill="#333" textLength="60.60" lengthAdjust="spacingAndGlyphs" stroke="#333" stroke-width="0.35" >(relative to baseline)</text>
<text x="197.00" y="19.90" font-size="10.4" font-weight="bold" font-style="normal" text-anchor="start" fill="#000" textLength="7.40" lengthAdjust="spacingAndGlyphs" stroke="#000" stroke-width="0.35" >B</text>
<text x="367.20" y="21.70" font-size="10.4" font-weight="bold" font-style="normal" text-anchor="start" fill="#000" textLength="8.20" lengthAdjust="spacingAndGlyphs" stroke="#000" stroke-width="0.35" >C</text>
<text x="213.20" y="406.80" font-size="10.8" font-weight="bold" font-style="normal" text-anchor="start" fill="#000" textLength="7.80" lengthAdjust="spacingAndGlyphs" stroke="#000" stroke-width="0.35" >D</text>
<line x1="285.60" y1="14.50" x2="285.60" y2="90.50" stroke="#777" stroke-width="0.6" stroke-dasharray="1.2,1.0"/>
<line x1="244.75" y1="75.50" x2="244.75" y2="74.60" stroke="#555" stroke-width="0.6" />
<line x1="243.15" y1="74.60" x2="246.35" y2="74.60" stroke="#555" stroke-width="0.6" />
<rect x="238.60" y="75.50" width="12.30" height="0.80" fill="#0a0a0a" />
<line x1="258.35" y1="60.10" x2="258.35" y2="51.30" stroke="#6868f0" stroke-width="0.6" />
<line x1="256.75" y1="51.30" x2="259.95" y2="51.30" stroke="#6868f0" stroke-width="0.6" />
<rect x="252.20" y="60.10" width="12.30" height="16.20" fill="#0b0be6" />
<line x1="271.95" y1="26.70" x2="271.95" y2="16.20" stroke="#f07080" stroke-width="0.6" />
<line x1="270.35" y1="16.20" x2="273.55" y2="16.20" stroke="#f07080" stroke-width="0.6" />
<rect x="265.80" y="41.80" width="12.30" height="34.50" fill="#ec1c24" />
<rect x="265.80" y="26.70" width="12.30" height="7.20" fill="#ec1c24" />
<line x1="297.25" y1="75.10" x2="297.25" y2="69.70" stroke="#555" stroke-width="0.6" />
<line x1="295.65" y1="69.70" x2="298.85" y2="69.70" stroke="#555" stroke-width="0.6" />
<rect x="291.10" y="75.10" width="12.30" height="1.20" fill="#0a0a0a" />
<line x1="310.75" y1="77.60" x2="310.75" y2="81.00" stroke="#6868f0" stroke-width="0.6" />
<line x1="309.15" y1="81.00" x2="312.35" y2="81.00" stroke="#6868f0" stroke-width="0.6" />
<rect x="304.60" y="76.30" width="12.30" height="1.30" fill="#0b0be6" />
<line x1="324.55" y1="32.90" x2="324.55" y2="26.20" stroke="#f07080" stroke-width="0.6" />
<line x1="322.95" y1="26.20" x2="326.15" y2="26.20" stroke="#f07080" stroke-width="0.6" />
<rect x="318.40" y="41.80" width="12.30" height="34.50" fill="#ec1c24" />
<rect x="318.40" y="32.90" width="12.30" height="1.00" fill="#ec1c24" />
<line x1="230.40" y1="76.30" x2="337.40" y2="76.30" stroke="#000" stroke-width="1.15" />
<line x1="231.60" y1="85.50" x2="337.40" y2="85.50" stroke="#777" stroke-width="0.9" />
<line x1="258.30" y1="85.50" x2="258.30" y2="87.50" stroke="#777" stroke-width="0.7" />
<line x1="311.00" y1="85.50" x2="311.00" y2="87.50" stroke="#777" stroke-width="0.7" />
<line x1="231.60" y1="41.50" x2="231.60" y2="85.50" stroke="#666" stroke-width="0.9" />
<line x1="229.60" y1="76.30" x2="231.60" y2="76.30" stroke="#666" stroke-width="0.7" />
<text x="229.00" y="78.50" font-size="6.3" font-weight="bold" font-style="normal" text-anchor="end" fill="#000" stroke="#000" stroke-width="0.35" >0</text>
<line x1="229.60" y1="67.67" x2="231.60" y2="67.67" stroke="#666" stroke-width="0.7" />
<text x="229.00" y="69.88" font-size="6.3" font-weight="bold" font-style="normal" text-anchor="end" fill="#000" stroke="#000" stroke-width="0.35" >5</text>
<line x1="229.60" y1="59.05" x2="231.60" y2="59.05" stroke="#666" stroke-width="0.7" />
<text x="229.00" y="61.25" font-size="6.3" font-weight="bold" font-style="normal" text-anchor="end" fill="#000" stroke="#000" stroke-width="0.35" >10</text>
<line x1="229.60" y1="50.42" x2="231.60" y2="50.42" stroke="#666" stroke-width="0.7" />
<text x="229.00" y="52.62" font-size="6.3" font-weight="bold" font-style="normal" text-anchor="end" fill="#000" stroke="#000" stroke-width="0.35" >15</text>
<line x1="229.60" y1="41.80" x2="231.60" y2="41.80" stroke="#666" stroke-width="0.7" />
<text x="229.00" y="44.00" font-size="6.3" font-weight="bold" font-style="normal" text-anchor="end" fill="#000" stroke="#000" stroke-width="0.35" >20</text>
<line x1="231.60" y1="15.00" x2="231.60" y2="33.90" stroke="#666" stroke-width="0.9" />
<line x1="229.60" y1="15.70" x2="231.60" y2="15.70" stroke="#666" stroke-width="0.7" />
<text x="229.00" y="17.90" font-size="6.3" font-weight="bold" font-style="normal" text-anchor="end" fill="#000" stroke="#000" stroke-width="0.35" >200</text>
<line x1="229.60" y1="22.40" x2="231.60" y2="22.40" stroke="#666" stroke-width="0.7" />
<text x="229.00" y="24.60" font-size="6.3" font-weight="bold" font-style="normal" text-anchor="end" fill="#000" stroke="#000" stroke-width="0.35" >150</text>
<line x1="229.60" y1="28.90" x2="231.60" y2="28.90" stroke="#666" stroke-width="0.7" />
<text x="229.00" y="31.10" font-size="6.3" font-weight="bold" font-style="normal" text-anchor="end" fill="#000" stroke="#000" stroke-width="0.35" >100</text>
<line x1="230.40" y1="19.00" x2="231.60" y2="19.00" stroke="#888" stroke-width="0.5" />
<line x1="230.40" y1="25.60" x2="231.60" y2="25.60" stroke="#888" stroke-width="0.5" />
<line x1="230.40" y1="32.20" x2="231.60" y2="32.20" stroke="#888" stroke-width="0.5" />
<text x="214.10" y="50.20" font-size="6.6" font-weight="bold" font-style="normal" text-anchor="middle" fill="#000" textLength="43.50" lengthAdjust="spacingAndGlyphs" transform="rotate(-90 214.10 50.20)" stroke="#000" stroke-width="0.15">relative change</text>
<text x="258.30" y="94.40" font-size="6.4" font-weight="bold" font-style="normal" text-anchor="middle" fill="#000" stroke="#000" stroke-width="0.35" >d. 1</text>
<text x="311.00" y="94.40" font-size="6.4" font-weight="bold" font-style="normal" text-anchor="middle" fill="#000" stroke="#000" stroke-width="0.35" >d. 3</text>
<text x="285.00" y="13.00" font-size="9.0" font-weight="bold" font-style="italic" text-anchor="middle" fill="#0a0a0a" textLength="25.80" lengthAdjust="spacingAndGlyphs" stroke="#0a0a0a" stroke-width="0.35" >Isg-15</text>
<line x1="285.60" y1="110.00" x2="285.60" y2="188.00" stroke="#777" stroke-width="0.6" stroke-dasharray="1.2,1.0"/>
<line x1="230.10" y1="162.10" x2="337.40" y2="162.10" stroke="#9a9a9a" stroke-width="0.6" />
<line x1="244.75" y1="160.20" x2="244.75" y2="159.40" stroke="#555" stroke-width="0.6" />
<line x1="243.15" y1="159.40" x2="246.35" y2="159.40" stroke="#555" stroke-width="0.6" />
<rect x="238.60" y="160.20" width="12.30" height="4.80" fill="#0a0a0a" />
<line x1="258.35" y1="150.00" x2="258.35" y2="146.20" stroke="#6868f0" stroke-width="0.6" />
<line x1="256.75" y1="146.20" x2="259.95" y2="146.20" stroke="#6868f0" stroke-width="0.6" />
<rect x="252.20" y="150.00" width="12.30" height="15.00" fill="#0b0be6" />
<line x1="271.95" y1="122.90" x2="271.95" y2="111.10" stroke="#f07080" stroke-width="0.6" />
<line x1="270.35" y1="111.10" x2="273.55" y2="111.10" stroke="#f07080" stroke-width="0.6" />
<rect x="265.80" y="135.80" width="12.30" height="29.20" fill="#ec1c24" />
<rect x="265.80" y="122.90" width="12.30" height="5.20" fill="#ec1c24" />
<line x1="297.25" y1="162.60" x2="297.25" y2="157.00" stroke="#555" stroke-width="0.6" />
<line x1="295.65" y1="157.00" x2="298.85" y2="157.00" stroke="#555" stroke-width="0.6" />
<rect x="291.10" y="162.60" width="12.30" height="2.40" fill="#0a0a0a" />
<line x1="310.75" y1="165.90" x2="310.75" y2="170.60" stroke="#6868f0" stroke-width="0.6" />
<line x1="309.15" y1="170.60" x2="312.35" y2="170.60" stroke="#6868f0" stroke-width="0.6" />
<rect x="304.60" y="165.00" width="12.30" height="0.90" fill="#0b0be6" />
<line x1="324.55" y1="127.20" x2="324.55" y2="119.40" stroke="#f07080" stroke-width="0.6" />
<line x1="322.95" y1="119.40" x2="326.15" y2="119.40" stroke="#f07080" stroke-width="0.6" />
<rect x="318.40" y="135.80" width="12.30" height="29.20" fill="#ec1c24" />
<rect x="318.40" y="127.20" width="12.30" height="0.90" fill="#ec1c24" />
<line x1="230.40" y1="165.00" x2="337.40" y2="165.00" stroke="#000" stroke-width="1.15" />
<line x1="231.60" y1="179.60" x2="337.40" y2="179.60" stroke="#777" stroke-width="0.9" />
<line x1="258.30" y1="179.60" x2="258.30" y2="181.60" stroke="#777" stroke-width="0.7" />
<line x1="311.00" y1="179.60" x2="311.00" y2="181.60" stroke="#777" stroke-width="0.7" />
<line x1="231.60" y1="135.80" x2="231.60" y2="179.60" stroke="#666" stroke-width="0.9" />
<line x1="229.60" y1="135.80" x2="231.60" y2="135.80" stroke="#666" stroke-width="0.7" />
<text x="229.00" y="138.00" font-size="6.3" font-weight="bold" font-style="normal" text-anchor="end" fill="#000" stroke="#000" stroke-width="0.35" >10</text>
<line x1="229.60" y1="150.40" x2="231.60" y2="150.40" stroke="#666" stroke-width="0.7" />
<text x="229.00" y="152.60" font-size="6.3" font-weight="bold" font-style="normal" text-anchor="end" fill="#000" stroke="#000" stroke-width="0.35" >5</text>
<line x1="229.60" y1="165.00" x2="231.60" y2="165.00" stroke="#666" stroke-width="0.7" />
<text x="229.00" y="167.20" font-size="6.3" font-weight="bold" font-style="normal" text-anchor="end" fill="#000" stroke="#000" stroke-width="0.35" >0</text>
<line x1="229.60" y1="179.60" x2="231.60" y2="179.60" stroke="#666" stroke-width="0.7" />
<text x="229.00" y="181.80" font-size="6.3" font-weight="bold" font-style="normal" text-anchor="end" fill="#000" stroke="#000" stroke-width="0.35" >-5</text>
<line x1="230.40" y1="143.10" x2="231.60" y2="143.10" stroke="#888" stroke-width="0.5" />
<line x1="230.40" y1="157.70" x2="231.60" y2="157.70" stroke="#888" stroke-width="0.5" />
<line x1="230.40" y1="172.30" x2="231.60" y2="172.30" stroke="#888" stroke-width="0.5" />
<line x1="231.60" y1="110.40" x2="231.60" y2="128.10" stroke="#666" stroke-width="0.9" />
<line x1="229.60" y1="117.10" x2="231.60" y2="117.10" stroke="#666" stroke-width="0.7" />
<text x="229.00" y="119.30" font-size="6.3" font-weight="bold" font-style="normal" text-anchor="end" fill="#000" stroke="#000" stroke-width="0.35" >100</text>
<line x1="229.60" y1="128.10" x2="231.60" y2="128.10" stroke="#666" stroke-width="0.7" />
<text x="229.00" y="130.30" font-size="6.3" font-weight="bold" font-style="normal" text-anchor="end" fill="#000" stroke="#000" stroke-width="0.35" >50</text>
<line x1="230.40" y1="122.60" x2="231.60" y2="122.60" stroke="#888" stroke-width="0.5" />
<line x1="230.40" y1="111.60" x2="231.60" y2="111.60" stroke="#888" stroke-width="0.5" />
<text x="214.10" y="144.50" font-size="6.6" font-weight="bold" font-style="normal" text-anchor="middle" fill="#000" textLength="43.50" lengthAdjust="spacingAndGlyphs" transform="rotate(-90 214.10 144.50)" stroke="#000" stroke-width="0.15">relative change</text>
<text x="258.30" y="187.80" font-size="6.4" font-weight="bold" font-style="normal" text-anchor="middle" fill="#000" stroke="#000" stroke-width="0.35" >d. 1</text>
<text x="311.00" y="187.80" font-size="6.4" font-weight="bold" font-style="normal" text-anchor="middle" fill="#000" stroke="#000" stroke-width="0.35" >d. 3</text>
<text x="285.00" y="109.50" font-size="9.0" font-weight="bold" font-style="italic" text-anchor="middle" fill="#0a0a0a" textLength="19.80" lengthAdjust="spacingAndGlyphs" stroke="#0a0a0a" stroke-width="0.35" >Mx-1</text>
<line x1="285.60" y1="204.00" x2="285.60" y2="284.00" stroke="#777" stroke-width="0.6" stroke-dasharray="1.2,1.0"/>
<line x1="230.10" y1="272.40" x2="337.40" y2="272.40" stroke="#9a9a9a" stroke-width="0.6" />
<line x1="244.75" y1="271.00" x2="244.75" y2="270.40" stroke="#555" stroke-width="0.6" />
<line x1="243.15" y1="270.40" x2="246.35" y2="270.40" stroke="#555" stroke-width="0.6" />
<rect x="238.60" y="271.00" width="12.30" height="3.60" fill="#0a0a0a" />
<line x1="258.35" y1="251.20" x2="258.35" y2="236.20" stroke="#6868f0" stroke-width="0.6" />
<line x1="256.75" y1="236.20" x2="259.95" y2="236.20" stroke="#6868f0" stroke-width="0.6" />
<rect x="252.20" y="251.20" width="12.30" height="23.40" fill="#0b0be6" />
<line x1="271.95" y1="214.10" x2="271.95" y2="204.90" stroke="#f07080" stroke-width="0.6" />
<line x1="270.35" y1="204.90" x2="273.55" y2="204.90" stroke="#f07080" stroke-width="0.6" />
<rect x="265.80" y="231.70" width="12.30" height="42.90" fill="#ec1c24" />
<rect x="265.80" y="214.10" width="12.30" height="9.40" fill="#ec1c24" />
<line x1="297.25" y1="274.00" x2="297.25" y2="269.50" stroke="#555" stroke-width="0.6" />
<line x1="295.65" y1="269.50" x2="298.85" y2="269.50" stroke="#555" stroke-width="0.6" />
<rect x="291.10" y="274.00" width="12.30" height="0.60" fill="#0a0a0a" />
<line x1="310.75" y1="274.00" x2="310.75" y2="267.60" stroke="#6868f0" stroke-width="0.6" />
<line x1="309.15" y1="267.60" x2="312.35" y2="267.60" stroke="#6868f0" stroke-width="0.6" />
<rect x="304.60" y="274.00" width="12.30" height="0.60" fill="#0b0be6" />
<line x1="324.55" y1="222.40" x2="324.55" y2="217.40" stroke="#f07080" stroke-width="0.6" />
<line x1="322.95" y1="217.40" x2="326.15" y2="217.40" stroke="#f07080" stroke-width="0.6" />
<rect x="318.40" y="231.70" width="12.30" height="42.90" fill="#ec1c24" />
<rect x="318.40" y="222.40" width="12.30" height="1.10" fill="#ec1c24" />
<line x1="230.40" y1="274.60" x2="337.40" y2="274.60" stroke="#000" stroke-width="1.15" />
<line x1="231.60" y1="274.60" x2="337.40" y2="274.60" stroke="#777" stroke-width="0.9" />
<line x1="258.30" y1="274.60" x2="258.30" y2="276.60" stroke="#777" stroke-width="0.7" />
<line x1="311.00" y1="274.60" x2="311.00" y2="276.60" stroke="#777" stroke-width="0.7" />
<line x1="231.60" y1="231.70" x2="231.60" y2="274.60" stroke="#666" stroke-width="0.9" />
<line x1="229.60" y1="274.60" x2="231.60" y2="274.60" stroke="#666" stroke-width="0.7" />
<text x="229.00" y="276.80" font-size="6.3" font-weight="bold" font-style="normal" text-anchor="end" fill="#000" stroke="#000" stroke-width="0.35" >0</text>
<line x1="229.60" y1="263.88" x2="231.60" y2="263.88" stroke="#666" stroke-width="0.7" />
<text x="229.00" y="266.07" font-size="6.3" font-weight="bold" font-style="normal" text-anchor="end" fill="#000" stroke="#000" stroke-width="0.35" >5</text>
<line x1="229.60" y1="253.15" x2="231.60" y2="253.15" stroke="#666" stroke-width="0.7" />
<text x="229.00" y="255.35" font-size="6.3" font-weight="bold" font-style="normal" text-anchor="end" fill="#000" stroke="#000" stroke-width="0.35" >10</text>
<line x1="229.60" y1="242.43" x2="231.60" y2="242.43" stroke="#666" stroke-width="0.7" />
<text x="229.00" y="244.62" font-size="6.3" font-weight="bold" font-style="normal" text-anchor="end" fill="#000" stroke="#000" stroke-width="0.35" >15</text>
<line x1="229.60" y1="231.70" x2="231.60" y2="231.70" stroke="#666" stroke-width="0.7" />
<text x="229.00" y="233.90" font-size="6.3" font-weight="bold" font-style="normal" text-anchor="end" fill="#000" stroke="#000" stroke-width="0.35" >20</text>
<line x1="231.60" y1="205.50" x2="231.60" y2="223.50" stroke="#666" stroke-width="0.9" />
<line x1="229.60" y1="210.00" x2="231.60" y2="210.00" stroke="#666" stroke-width="0.7" />
<text x="229.00" y="212.20" font-size="6.3" font-weight="bold" font-style="normal" text-anchor="end" fill="#000" stroke="#000" stroke-width="0.35" >150</text>
<line x1="229.60" y1="216.80" x2="231.60" y2="216.80" stroke="#666" stroke-width="0.7" />
<text x="229.00" y="219.00" font-size="6.3" font-weight="bold" font-style="normal" text-anchor="end" fill="#000" stroke="#000" stroke-width="0.35" >100</text>
<line x1="229.60" y1="223.50" x2="231.60" y2="223.50" stroke="#666" stroke-width="0.7" />
<text x="229.00" y="225.70" font-size="6.3" font-weight="bold" font-style="normal" text-anchor="end" fill="#000" stroke="#000" stroke-width="0.35" >50</text>
<text x="214.40" y="239.30" font-size="6.6" font-weight="bold" font-style="normal" text-anchor="middle" fill="#000" textLength="43.50" lengthAdjust="spacingAndGlyphs" transform="rotate(-90 214.40 239.30)" stroke="#000" stroke-width="0.15">relative change</text>
<text x="258.30" y="282.90" font-size="6.4" font-weight="bold" font-style="normal" text-anchor="middle" fill="#000" stroke="#000" stroke-width="0.35" >d. 1</text>
<text x="311.00" y="282.90" font-size="6.4" font-weight="bold" font-style="normal" text-anchor="middle" fill="#000" stroke="#000" stroke-width="0.35" >d. 3</text>
<text x="285.00" y="202.00" font-size="9.0" font-weight="bold" font-style="italic" text-anchor="middle" fill="#0a0a0a" textLength="19.20" lengthAdjust="spacingAndGlyphs" stroke="#0a0a0a" stroke-width="0.35" >Ifit-1</text>
<line x1="285.60" y1="297.00" x2="285.60" y2="378.50" stroke="#777" stroke-width="0.6" stroke-dasharray="1.2,1.0"/>
<line x1="230.10" y1="356.10" x2="337.40" y2="356.10" stroke="#9a9a9a" stroke-width="0.6" />
<line x1="244.75" y1="356.10" x2="244.75" y2="351.30" stroke="#555" stroke-width="0.6" />
<line x1="243.15" y1="351.30" x2="246.35" y2="351.30" stroke="#555" stroke-width="0.6" />
<rect x="238.60" y="356.10" width="12.30" height="4.40" fill="#0a0a0a" />
<line x1="258.35" y1="353.80" x2="258.35" y2="353.00" stroke="#6868f0" stroke-width="0.6" />
<line x1="256.75" y1="353.00" x2="259.95" y2="353.00" stroke="#6868f0" stroke-width="0.6" />
<rect x="252.20" y="353.80" width="12.30" height="6.70" fill="#0b0be6" />
<line x1="271.95" y1="320.40" x2="271.95" y2="301.50" stroke="#f07080" stroke-width="0.6" />
<line x1="270.35" y1="301.50" x2="273.55" y2="301.50" stroke="#f07080" stroke-width="0.6" />
<rect x="265.80" y="320.40" width="12.30" height="40.10" fill="#ec1c24" />
<line x1="297.25" y1="360.00" x2="297.25" y2="354.40" stroke="#555" stroke-width="0.6" />
<line x1="295.65" y1="354.40" x2="298.85" y2="354.40" stroke="#555" stroke-width="0.6" />
<rect x="291.10" y="359.90" width="12.30" height="0.60" fill="#0a0a0a" />
<line x1="310.75" y1="365.70" x2="310.75" y2="366.60" stroke="#6868f0" stroke-width="0.6" />
<line x1="309.15" y1="366.60" x2="312.35" y2="366.60" stroke="#6868f0" stroke-width="0.6" />
<rect x="304.60" y="360.50" width="12.30" height="5.20" fill="#0b0be6" />
<line x1="324.55" y1="341.50" x2="324.55" y2="334.30" stroke="#f07080" stroke-width="0.6" />
<line x1="322.95" y1="334.30" x2="326.15" y2="334.30" stroke="#f07080" stroke-width="0.6" />
<rect x="318.40" y="341.50" width="12.30" height="19.00" fill="#ec1c24" />
<line x1="230.40" y1="360.50" x2="337.40" y2="360.50" stroke="#000" stroke-width="1.15" />
<line x1="231.60" y1="368.70" x2="337.40" y2="368.70" stroke="#777" stroke-width="0.9" />
<line x1="258.30" y1="368.70" x2="258.30" y2="370.70" stroke="#777" stroke-width="0.7" />
<line x1="311.00" y1="368.70" x2="311.00" y2="370.70" stroke="#777" stroke-width="0.7" />
<line x1="231.60" y1="298.00" x2="231.60" y2="368.70" stroke="#666" stroke-width="0.9" />
<line x1="229.60" y1="299.32" x2="231.60" y2="299.32" stroke="#666" stroke-width="0.7" />
<text x="229.00" y="301.52" font-size="6.3" font-weight="bold" font-style="normal" text-anchor="end" fill="#000" stroke="#000" stroke-width="0.35" >14</text>
<line x1="229.60" y1="308.06" x2="231.60" y2="308.06" stroke="#666" stroke-width="0.7" />
<text x="229.00" y="310.26" font-size="6.3" font-weight="bold" font-style="normal" text-anchor="end" fill="#000" stroke="#000" stroke-width="0.35" >12</text>
<line x1="229.60" y1="316.80" x2="231.60" y2="316.80" stroke="#666" stroke-width="0.7" />
<text x="229.00" y="319.00" font-size="6.3" font-weight="bold" font-style="normal" text-anchor="end" fill="#000" stroke="#000" stroke-width="0.35" >10</text>
<line x1="229.60" y1="325.54" x2="231.60" y2="325.54" stroke="#666" stroke-width="0.7" />
<text x="229.00" y="327.74" font-size="6.3" font-weight="bold" font-style="normal" text-anchor="end" fill="#000" stroke="#000" stroke-width="0.35" >8</text>
<line x1="229.60" y1="334.28" x2="231.60" y2="334.28" stroke="#666" stroke-width="0.7" />
<text x="229.00" y="336.48" font-size="6.3" font-weight="bold" font-style="normal" text-anchor="end" fill="#000" stroke="#000" stroke-width="0.35" >6</text>
<line x1="229.60" y1="343.02" x2="231.60" y2="343.02" stroke="#666" stroke-width="0.7" />
<text x="229.00" y="345.22" font-size="6.3" font-weight="bold" font-style="normal" text-anchor="end" fill="#000" stroke="#000" stroke-width="0.35" >4</text>
<line x1="229.60" y1="351.76" x2="231.60" y2="351.76" stroke="#666" stroke-width="0.7" />
<text x="229.00" y="353.96" font-size="6.3" font-weight="bold" font-style="normal" text-anchor="end" fill="#000" stroke="#000" stroke-width="0.35" >2</text>
<line x1="229.60" y1="360.50" x2="231.60" y2="360.50" stroke="#666" stroke-width="0.7" />
<text x="229.00" y="362.70" font-size="6.3" font-weight="bold" font-style="normal" text-anchor="end" fill="#000" stroke="#000" stroke-width="0.35" >0</text>
<line x1="229.60" y1="369.24" x2="231.60" y2="369.24" stroke="#666" stroke-width="0.7" />
<text x="229.00" y="371.44" font-size="6.3" font-weight="bold" font-style="normal" text-anchor="end" fill="#000" stroke="#000" stroke-width="0.35" >-2</text>
<text x="217.90" y="333.20" font-size="6.6" font-weight="bold" font-style="normal" text-anchor="middle" fill="#000" textLength="43.50" lengthAdjust="spacingAndGlyphs" transform="rotate(-90 217.90 333.20)" stroke="#000" stroke-width="0.15">relative change</text>
<text x="258.30" y="377.50" font-size="6.4" font-weight="bold" font-style="normal" text-anchor="middle" fill="#000" stroke="#000" stroke-width="0.35" >d. 1</text>
<text x="311.00" y="377.50" font-size="6.4" font-weight="bold" font-style="normal" text-anchor="middle" fill="#000" stroke="#000" stroke-width="0.35" >d. 3</text>
<text x="285.00" y="295.40" font-size="9.0" font-weight="bold" font-style="italic" text-anchor="middle" fill="#0a0a0a" textLength="23.20" lengthAdjust="spacingAndGlyphs" stroke="#0a0a0a" stroke-width="0.35" >Oas-1</text>
<line x1="457.30" y1="12.50" x2="457.30" y2="92.00" stroke="#777" stroke-width="0.6" stroke-dasharray="1.2,1.0"/>
<line x1="402.60" y1="63.90" x2="509.00" y2="63.90" stroke="#9a9a9a" stroke-width="0.6" />
<line x1="417.05" y1="67.30" x2="417.05" y2="69.70" stroke="#555" stroke-width="0.6" />
<line x1="415.45" y1="69.70" x2="418.65" y2="69.70" stroke="#555" stroke-width="0.6" />
<rect x="410.80" y="66.00" width="12.50" height="1.30" fill="#0a0a0a" />
<line x1="430.85" y1="62.50" x2="430.85" y2="49.20" stroke="#6868f0" stroke-width="0.6" />
<line x1="429.25" y1="49.20" x2="432.45" y2="49.20" stroke="#6868f0" stroke-width="0.6" />
<rect x="424.60" y="62.50" width="12.50" height="3.50" fill="#0b0be6" />
<line x1="444.55" y1="30.80" x2="444.55" y2="19.50" stroke="#f07080" stroke-width="0.6" />
<line x1="442.95" y1="19.50" x2="446.15" y2="19.50" stroke="#f07080" stroke-width="0.6" />
<rect x="438.30" y="44.80" width="12.50" height="21.20" fill="#ec1c24" />
<rect x="438.30" y="30.80" width="12.50" height="6.10" fill="#ec1c24" />
<line x1="470.05" y1="64.90" x2="470.05" y2="61.10" stroke="#555" stroke-width="0.6" />
<line x1="468.45" y1="61.10" x2="471.65" y2="61.10" stroke="#555" stroke-width="0.6" />
<rect x="463.80" y="64.90" width="12.50" height="1.10" fill="#0a0a0a" />
<line x1="483.85" y1="70.10" x2="483.85" y2="78.30" stroke="#6868f0" stroke-width="0.6" />
<line x1="482.25" y1="78.30" x2="485.45" y2="78.30" stroke="#6868f0" stroke-width="0.6" />
<rect x="477.60" y="66.00" width="12.50" height="4.10" fill="#0b0be6" />
<line x1="497.25" y1="34.40" x2="497.25" y2="26.20" stroke="#f07080" stroke-width="0.6" />
<line x1="495.65" y1="26.20" x2="498.85" y2="26.20" stroke="#f07080" stroke-width="0.6" />
<rect x="491.00" y="44.80" width="12.50" height="21.20" fill="#ec1c24" />
<rect x="491.00" y="34.40" width="12.50" height="2.50" fill="#ec1c24" />
<line x1="402.90" y1="66.00" x2="509.00" y2="66.00" stroke="#000" stroke-width="1.15" />
<line x1="404.10" y1="87.20" x2="509.00" y2="87.20" stroke="#777" stroke-width="0.9" />
<line x1="430.70" y1="87.20" x2="430.70" y2="89.20" stroke="#777" stroke-width="0.7" />
<line x1="483.70" y1="87.20" x2="483.70" y2="89.20" stroke="#777" stroke-width="0.7" />
<line x1="404.10" y1="44.80" x2="404.10" y2="87.20" stroke="#666" stroke-width="0.9" />
<line x1="402.10" y1="44.80" x2="404.10" y2="44.80" stroke="#666" stroke-width="0.7" />
<text x="401.50" y="47.00" font-size="6.3" font-weight="bold" font-style="normal" text-anchor="end" fill="#000" stroke="#000" stroke-width="0.35" >10</text>
<line x1="402.10" y1="55.40" x2="404.10" y2="55.40" stroke="#666" stroke-width="0.7" />
<text x="401.50" y="57.60" font-size="6.3" font-weight="bold" font-style="normal" text-anchor="end" fill="#000" stroke="#000" stroke-width="0.35" >5</text>
<line x1="402.10" y1="66.00" x2="404.10" y2="66.00" stroke="#666" stroke-width="0.7" />
<text x="401.50" y="68.20" font-size="6.3" font-weight="bold" font-style="normal" text-anchor="end" fill="#000" stroke="#000" stroke-width="0.35" >0</text>
<line x1="402.10" y1="76.60" x2="404.10" y2="76.60" stroke="#666" stroke-width="0.7" />
<text x="401.50" y="78.80" font-size="6.3" font-weight="bold" font-style="normal" text-anchor="end" fill="#000" stroke="#000" stroke-width="0.35" >-5</text>
<line x1="402.10" y1="87.20" x2="404.10" y2="87.20" stroke="#666" stroke-width="0.7" />
<text x="401.50" y="89.40" font-size="6.3" font-weight="bold" font-style="normal" text-anchor="end" fill="#000" stroke="#000" stroke-width="0.35" >-10</text>
<line x1="404.10" y1="18.00" x2="404.10" y2="36.90" stroke="#666" stroke-width="0.9" />
<line x1="402.10" y1="18.90" x2="404.10" y2="18.90" stroke="#666" stroke-width="0.7" />
<text x="401.50" y="21.10" font-size="6.3" font-weight="bold" font-style="normal" text-anchor="end" fill="#000" stroke="#000" stroke-width="0.35" >200</text>
<line x1="402.10" y1="24.90" x2="404.10" y2="24.90" stroke="#666" stroke-width="0.7" />
<text x="401.50" y="27.10" font-size="6.3" font-weight="bold" font-style="normal" text-anchor="end" fill="#000" stroke="#000" stroke-width="0.35" >150</text>
<line x1="402.10" y1="30.90" x2="404.10" y2="30.90" stroke="#666" stroke-width="0.7" />
<text x="401.50" y="33.10" font-size="6.3" font-weight="bold" font-style="normal" text-anchor="end" fill="#000" stroke="#000" stroke-width="0.35" >100</text>
<line x1="402.10" y1="36.90" x2="404.10" y2="36.90" stroke="#666" stroke-width="0.7" />
<text x="401.50" y="39.10" font-size="6.3" font-weight="bold" font-style="normal" text-anchor="end" fill="#000" stroke="#000" stroke-width="0.35" >50</text>
<text x="386.50" y="52.20" font-size="6.6" font-weight="bold" font-style="normal" text-anchor="middle" fill="#000" textLength="43.50" lengthAdjust="spacingAndGlyphs" transform="rotate(-90 386.50 52.20)" stroke="#000" stroke-width="0.15">relative change</text>
<text x="430.70" y="95.50" font-size="6.4" font-weight="bold" font-style="normal" text-anchor="middle" fill="#000" stroke="#000" stroke-width="0.35" >d. 1</text>
<text x="483.70" y="95.50" font-size="6.4" font-weight="bold" font-style="normal" text-anchor="middle" fill="#000" stroke="#000" stroke-width="0.35" >d. 3</text>
<text x="457.60" y="9.80" font-size="9.0" font-weight="bold" font-style="italic" text-anchor="middle" fill="#0a0a0a" textLength="30.00" lengthAdjust="spacingAndGlyphs" stroke="#0a0a0a" stroke-width="0.35" >Cxcl-10</text>
<line x1="457.30" y1="106.00" x2="457.30" y2="188.00" stroke="#777" stroke-width="0.6" stroke-dasharray="1.2,1.0"/>
<line x1="402.60" y1="160.40" x2="509.00" y2="160.40" stroke="#9a9a9a" stroke-width="0.6" />
<line x1="417.05" y1="163.40" x2="417.05" y2="165.40" stroke="#555" stroke-width="0.6" />
<line x1="415.45" y1="165.40" x2="418.65" y2="165.40" stroke="#555" stroke-width="0.6" />
<rect x="410.80" y="161.80" width="12.50" height="1.60" fill="#0a0a0a" />
<line x1="430.85" y1="158.70" x2="430.85" y2="142.30" stroke="#6868f0" stroke-width="0.6" />
<line x1="429.25" y1="142.30" x2="432.45" y2="142.30" stroke="#6868f0" stroke-width="0.6" />
<rect x="424.60" y="158.70" width="12.50" height="3.10" fill="#0b0be6" />
<line x1="444.55" y1="117.30" x2="444.55" y2="109.50" stroke="#f07080" stroke-width="0.6" />
<line x1="442.95" y1="109.50" x2="446.15" y2="109.50" stroke="#f07080" stroke-width="0.6" />
<rect x="438.30" y="133.20" width="12.50" height="28.60" fill="#ec1c24" />
<rect x="438.30" y="117.30" width="12.50" height="8.60" fill="#ec1c24" />
<line x1="470.05" y1="165.40" x2="470.05" y2="166.80" stroke="#555" stroke-width="0.6" />
<line x1="468.45" y1="166.80" x2="471.65" y2="166.80" stroke="#555" stroke-width="0.6" />
<rect x="463.80" y="161.80" width="12.50" height="3.60" fill="#0a0a0a" />
<line x1="483.85" y1="163.80" x2="483.85" y2="168.90" stroke="#6868f0" stroke-width="0.6" />
<line x1="482.25" y1="168.90" x2="485.45" y2="168.90" stroke="#6868f0" stroke-width="0.6" />
<rect x="477.60" y="161.80" width="12.50" height="2.00" fill="#0b0be6" />
<line x1="497.25" y1="124.30" x2="497.25" y2="122.20" stroke="#f07080" stroke-width="0.6" />
<line x1="495.65" y1="122.20" x2="498.85" y2="122.20" stroke="#f07080" stroke-width="0.6" />
<rect x="491.00" y="133.20" width="12.50" height="28.60" fill="#ec1c24" />
<rect x="491.00" y="124.30" width="12.50" height="1.20" fill="#ec1c24" />
<line x1="402.90" y1="161.80" x2="509.00" y2="161.80" stroke="#000" stroke-width="1.15" />
<line x1="404.10" y1="176.10" x2="509.00" y2="176.10" stroke="#777" stroke-width="0.9" />
<line x1="430.70" y1="176.10" x2="430.70" y2="178.10" stroke="#777" stroke-width="0.7" />
<line x1="483.70" y1="176.10" x2="483.70" y2="178.10" stroke="#777" stroke-width="0.7" />
<line x1="404.10" y1="133.20" x2="404.10" y2="176.10" stroke="#666" stroke-width="0.9" />
<line x1="402.10" y1="133.20" x2="404.10" y2="133.20" stroke="#666" stroke-width="0.7" />
<text x="401.50" y="135.40" font-size="6.3" font-weight="bold" font-style="normal" text-anchor="end" fill="#000" stroke="#000" stroke-width="0.35" >20</text>
<line x1="402.10" y1="140.35" x2="404.10" y2="140.35" stroke="#666" stroke-width="0.7" />
<text x="401.50" y="142.55" font-size="6.3" font-weight="bold" font-style="normal" text-anchor="end" fill="#000" stroke="#000" stroke-width="0.35" >15</text>
<line x1="402.10" y1="147.50" x2="404.10" y2="147.50" stroke="#666" stroke-width="0.7" />
<text x="401.50" y="149.70" font-size="6.3" font-weight="bold" font-style="normal" text-anchor="end" fill="#000" stroke="#000" stroke-width="0.35" >10</text>
<line x1="402.10" y1="154.65" x2="404.10" y2="154.65" stroke="#666" stroke-width="0.7" />
<text x="401.50" y="156.85" font-size="6.3" font-weight="bold" font-style="normal" text-anchor="end" fill="#000" stroke="#000" stroke-width="0.35" >5</text>
<line x1="402.10" y1="161.80" x2="404.10" y2="161.80" stroke="#666" stroke-width="0.7" />
<text x="401.50" y="164.00" font-size="6.3" font-weight="bold" font-style="normal" text-anchor="end" fill="#000" stroke="#000" stroke-width="0.35" >0</text>
<line x1="402.10" y1="168.95" x2="404.10" y2="168.95" stroke="#666" stroke-width="0.7" />
<text x="401.50" y="171.15" font-size="6.3" font-weight="bold" font-style="normal" text-anchor="end" fill="#000" stroke="#000" stroke-width="0.35" >-5</text>
<line x1="402.10" y1="176.10" x2="404.10" y2="176.10" stroke="#666" stroke-width="0.7" />
<text x="401.50" y="178.30" font-size="6.3" font-weight="bold" font-style="normal" text-anchor="end" fill="#000" stroke="#000" stroke-width="0.35" >-10</text>
<line x1="404.10" y1="105.50" x2="404.10" y2="125.90" stroke="#666" stroke-width="0.9" />
<line x1="402.10" y1="106.40" x2="404.10" y2="106.40" stroke="#666" stroke-width="0.7" />
<text x="401.50" y="108.60" font-size="6.3" font-weight="bold" font-style="normal" text-anchor="end" fill="#000" stroke="#000" stroke-width="0.35" >600</text>
<line x1="402.10" y1="114.00" x2="404.10" y2="114.00" stroke="#666" stroke-width="0.7" />
<text x="401.50" y="116.20" font-size="6.3" font-weight="bold" font-style="normal" text-anchor="end" fill="#000" stroke="#000" stroke-width="0.35" >400</text>
<line x1="402.10" y1="121.40" x2="404.10" y2="121.40" stroke="#666" stroke-width="0.7" />
<text x="401.50" y="123.60" font-size="6.3" font-weight="bold" font-style="normal" text-anchor="end" fill="#000" stroke="#000" stroke-width="0.35" >200</text>
<text x="387.90" y="140.80" font-size="6.6" font-weight="bold" font-style="normal" text-anchor="middle" fill="#000" textLength="43.50" lengthAdjust="spacingAndGlyphs" transform="rotate(-90 387.90 140.80)" stroke="#000" stroke-width="0.15">relative change</text>
<text x="430.70" y="185.50" font-size="6.4" font-weight="bold" font-style="normal" text-anchor="middle" fill="#000" stroke="#000" stroke-width="0.35" >d. 1</text>
<text x="483.70" y="185.50" font-size="6.4" font-weight="bold" font-style="normal" text-anchor="middle" fill="#000" stroke="#000" stroke-width="0.35" >d. 3</text>
<text x="457.40" y="103.30" font-size="9.0" font-weight="bold" font-style="italic" text-anchor="middle" fill="#0a0a0a" textLength="29.40" lengthAdjust="spacingAndGlyphs" stroke="#0a0a0a" stroke-width="0.35" >Cxcl-11</text>
<line x1="457.30" y1="199.00" x2="457.30" y2="283.00" stroke="#777" stroke-width="0.6" stroke-dasharray="1.2,1.0"/>
<line x1="402.60" y1="256.30" x2="509.00" y2="256.30" stroke="#9a9a9a" stroke-width="0.6" />
<line x1="417.05" y1="261.00" x2="417.05" y2="266.30" stroke="#555" stroke-width="0.6" />
<line x1="415.45" y1="266.30" x2="418.65" y2="266.30" stroke="#555" stroke-width="0.6" />
<rect x="410.80" y="260.00" width="12.50" height="1.00" fill="#0a0a0a" />
<line x1="430.85" y1="258.80" x2="430.85" y2="255.20" stroke="#6868f0" stroke-width="0.6" />
<line x1="429.25" y1="255.20" x2="432.45" y2="255.20" stroke="#6868f0" stroke-width="0.6" />
<rect x="424.60" y="258.80" width="12.50" height="1.20" fill="#0b0be6" />
<line x1="444.55" y1="224.10" x2="444.55" y2="201.50" stroke="#f07080" stroke-width="0.6" />
<line x1="442.95" y1="201.50" x2="446.15" y2="201.50" stroke="#f07080" stroke-width="0.6" />
<rect x="438.30" y="224.10" width="12.50" height="35.90" fill="#ec1c24" />
<line x1="470.05" y1="253.40" x2="470.05" y2="252.60" stroke="#555" stroke-width="0.6" />
<line x1="468.45" y1="252.60" x2="471.65" y2="252.60" stroke="#555" stroke-width="0.6" />
<rect x="463.80" y="253.40" width="12.50" height="6.60" fill="#0a0a0a" />
<line x1="483.85" y1="266.10" x2="483.85" y2="266.90" stroke="#6868f0" stroke-width="0.6" />
<line x1="482.25" y1="266.90" x2="485.45" y2="266.90" stroke="#6868f0" stroke-width="0.6" />
<rect x="477.60" y="260.00" width="12.50" height="6.10" fill="#0b0be6" />
<line x1="497.25" y1="247.20" x2="497.25" y2="233.90" stroke="#f07080" stroke-width="0.6" />
<line x1="495.65" y1="233.90" x2="498.85" y2="233.90" stroke="#f07080" stroke-width="0.6" />
<rect x="491.00" y="247.20" width="12.50" height="12.80" fill="#ec1c24" />
<line x1="402.90" y1="260.00" x2="509.00" y2="260.00" stroke="#000" stroke-width="1.15" />
<line x1="404.10" y1="270.50" x2="509.00" y2="270.50" stroke="#777" stroke-width="0.9" />
<line x1="430.70" y1="270.50" x2="430.70" y2="272.50" stroke="#777" stroke-width="0.7" />
<line x1="483.70" y1="270.50" x2="483.70" y2="272.50" stroke="#777" stroke-width="0.7" />
<line x1="404.10" y1="199.50" x2="404.10" y2="270.50" stroke="#666" stroke-width="0.9" />
<line x1="402.10" y1="200.80" x2="404.10" y2="200.80" stroke="#666" stroke-width="0.7" />
<text x="401.50" y="203.00" font-size="6.3" font-weight="bold" font-style="normal" text-anchor="end" fill="#000" stroke="#000" stroke-width="0.35" >16</text>
<line x1="402.10" y1="208.20" x2="404.10" y2="208.20" stroke="#666" stroke-width="0.7" />
<text x="401.50" y="210.40" font-size="6.3" font-weight="bold" font-style="normal" text-anchor="end" fill="#000" stroke="#000" stroke-width="0.35" >14</text>
<line x1="402.10" y1="215.60" x2="404.10" y2="215.60" stroke="#666" stroke-width="0.7" />
<text x="401.50" y="217.80" font-size="6.3" font-weight="bold" font-style="normal" text-anchor="end" fill="#000" stroke="#000" stroke-width="0.35" >12</text>
<line x1="402.10" y1="223.00" x2="404.10" y2="223.00" stroke="#666" stroke-width="0.7" />
<text x="401.50" y="225.20" font-size="6.3" font-weight="bold" font-style="normal" text-anchor="end" fill="#000" stroke="#000" stroke-width="0.35" >10</text>
<line x1="402.10" y1="230.40" x2="404.10" y2="230.40" stroke="#666" stroke-width="0.7" />
<text x="401.50" y="232.60" font-size="6.3" font-weight="bold" font-style="normal" text-anchor="end" fill="#000" stroke="#000" stroke-width="0.35" >8</text>
<line x1="402.10" y1="237.80" x2="404.10" y2="237.80" stroke="#666" stroke-width="0.7" />
<text x="401.50" y="240.00" font-size="6.3" font-weight="bold" font-style="normal" text-anchor="end" fill="#000" stroke="#000" stroke-width="0.35" >6</text>
<line x1="402.10" y1="245.20" x2="404.10" y2="245.20" stroke="#666" stroke-width="0.7" />
<text x="401.50" y="247.40" font-size="6.3" font-weight="bold" font-style="normal" text-anchor="end" fill="#000" stroke="#000" stroke-width="0.35" >4</text>
<line x1="402.10" y1="252.60" x2="404.10" y2="252.60" stroke="#666" stroke-width="0.7" />
<text x="401.50" y="254.80" font-size="6.3" font-weight="bold" font-style="normal" text-anchor="end" fill="#000" stroke="#000" stroke-width="0.35" >2</text>
<line x1="402.10" y1="260.00" x2="404.10" y2="260.00" stroke="#666" stroke-width="0.7" />
<text x="401.50" y="262.20" font-size="6.3" font-weight="bold" font-style="normal" text-anchor="end" fill="#000" stroke="#000" stroke-width="0.35" >0</text>
<line x1="402.10" y1="267.40" x2="404.10" y2="267.40" stroke="#666" stroke-width="0.7" />
<text x="401.50" y="269.60" font-size="6.3" font-weight="bold" font-style="normal" text-anchor="end" fill="#000" stroke="#000" stroke-width="0.35" >-2</text>
<text x="388.90" y="235.40" font-size="6.6" font-weight="bold" font-style="normal" text-anchor="middle" fill="#000" textLength="43.50" lengthAdjust="spacingAndGlyphs" transform="rotate(-90 388.90 235.40)" stroke="#000" stroke-width="0.15">relative change</text>
<text x="430.70" y="279.20" font-size="6.4" font-weight="bold" font-style="normal" text-anchor="middle" fill="#000" stroke="#000" stroke-width="0.35" >d. 1</text>
<text x="483.70" y="279.20" font-size="6.4" font-weight="bold" font-style="normal" text-anchor="middle" fill="#000" stroke="#000" stroke-width="0.35" >d. 3</text>
<text x="457.60" y="198.40" font-size="9.0" font-weight="bold" font-style="italic" text-anchor="middle" fill="#0a0a0a" textLength="20.50" lengthAdjust="spacingAndGlyphs" stroke="#0a0a0a" stroke-width="0.35" >Ccl-3</text>
<line x1="457.30" y1="294.00" x2="457.30" y2="380.00" stroke="#777" stroke-width="0.6" stroke-dasharray="1.2,1.0"/>
<line x1="402.60" y1="328.20" x2="509.00" y2="328.20" stroke="#9a9a9a" stroke-width="0.6" />
<line x1="417.05" y1="324.30" x2="417.05" y2="311.00" stroke="#555" stroke-width="0.6" />
<line x1="415.45" y1="311.00" x2="418.65" y2="311.00" stroke="#555" stroke-width="0.6" />
<rect x="410.80" y="324.30" width="12.50" height="6.80" fill="#0a0a0a" />
<line x1="430.85" y1="350.60" x2="430.85" y2="362.30" stroke="#6868f0" stroke-width="0.6" />
<line x1="429.25" y1="362.30" x2="432.45" y2="362.30" stroke="#6868f0" stroke-width="0.6" />
<rect x="424.60" y="331.10" width="12.50" height="19.50" fill="#0b0be6" />
<line x1="444.55" y1="311.40" x2="444.55" y2="300.30" stroke="#f07080" stroke-width="0.6" />
<line x1="442.95" y1="300.30" x2="446.15" y2="300.30" stroke="#f07080" stroke-width="0.6" />
<rect x="438.30" y="311.40" width="12.50" height="19.70" fill="#ec1c24" />
<line x1="470.05" y1="330.30" x2="470.05" y2="325.30" stroke="#555" stroke-width="0.6" />
<line x1="468.45" y1="325.30" x2="471.65" y2="325.30" stroke="#555" stroke-width="0.6" />
<rect x="463.80" y="330.30" width="12.50" height="0.80" fill="#0a0a0a" />
<line x1="483.85" y1="337.60" x2="483.85" y2="338.50" stroke="#6868f0" stroke-width="0.6" />
<line x1="482.25" y1="338.50" x2="485.45" y2="338.50" stroke="#6868f0" stroke-width="0.6" />
<rect x="477.60" y="331.10" width="12.50" height="6.50" fill="#0b0be6" />
<line x1="497.25" y1="322.90" x2="497.25" y2="315.50" stroke="#f07080" stroke-width="0.6" />
<line x1="495.65" y1="315.50" x2="498.85" y2="315.50" stroke="#f07080" stroke-width="0.6" />
<rect x="491.00" y="322.90" width="12.50" height="8.20" fill="#ec1c24" />
<line x1="402.90" y1="331.10" x2="509.00" y2="331.10" stroke="#000" stroke-width="1.15" />
<line x1="404.10" y1="365.90" x2="509.00" y2="365.90" stroke="#777" stroke-width="0.9" />
<line x1="430.70" y1="365.90" x2="430.70" y2="367.90" stroke="#777" stroke-width="0.7" />
<line x1="483.70" y1="365.90" x2="483.70" y2="367.90" stroke="#777" stroke-width="0.7" />
<line x1="404.10" y1="295.60" x2="404.10" y2="365.90" stroke="#666" stroke-width="0.9" />
<line x1="402.10" y1="296.30" x2="404.10" y2="296.30" stroke="#666" stroke-width="0.7" />
<text x="401.50" y="298.50" font-size="6.3" font-weight="bold" font-style="normal" text-anchor="end" fill="#000" stroke="#000" stroke-width="0.35" >12</text>
<line x1="402.10" y1="302.10" x2="404.10" y2="302.10" stroke="#666" stroke-width="0.7" />
<text x="401.50" y="304.30" font-size="6.3" font-weight="bold" font-style="normal" text-anchor="end" fill="#000" stroke="#000" stroke-width="0.35" >10</text>
<line x1="402.10" y1="307.90" x2="404.10" y2="307.90" stroke="#666" stroke-width="0.7" />
<text x="401.50" y="310.10" font-size="6.3" font-weight="bold" font-style="normal" text-anchor="end" fill="#000" stroke="#000" stroke-width="0.35" >8</text>
<line x1="402.10" y1="313.70" x2="404.10" y2="313.70" stroke="#666" stroke-width="0.7" />
<text x="401.50" y="315.90" font-size="6.3" font-weight="bold" font-style="normal" text-anchor="end" fill="#000" stroke="#000" stroke-width="0.35" >6</text>
<line x1="402.10" y1="319.50" x2="404.10" y2="319.50" stroke="#666" stroke-width="0.7" />
<text x="401.50" y="321.70" font-size="6.3" font-weight="bold" font-style="normal" text-anchor="end" fill="#000" stroke="#000" stroke-width="0.35" >4</text>
<line x1="402.10" y1="325.30" x2="404.10" y2="325.30" stroke="#666" stroke-width="0.7" />
<text x="401.50" y="327.50" font-size="6.3" font-weight="bold" font-style="normal" text-anchor="end" fill="#000" stroke="#000" stroke-width="0.35" >2</text>
<line x1="402.10" y1="331.10" x2="404.10" y2="331.10" stroke="#666" stroke-width="0.7" />
<text x="401.50" y="333.30" font-size="6.3" font-weight="bold" font-style="normal" text-anchor="end" fill="#000" stroke="#000" stroke-width="0.35" >0</text>
<line x1="402.10" y1="336.90" x2="404.10" y2="336.90" stroke="#666" stroke-width="0.7" />
<text x="401.50" y="339.10" font-size="6.3" font-weight="bold" font-style="normal" text-anchor="end" fill="#000" stroke="#000" stroke-width="0.35" >-2</text>
<line x1="402.10" y1="342.70" x2="404.10" y2="342.70" stroke="#666" stroke-width="0.7" />
<text x="401.50" y="344.90" font-size="6.3" font-weight="bold" font-style="normal" text-anchor="end" fill="#000" stroke="#000" stroke-width="0.35" >-4</text>
<line x1="402.10" y1="348.50" x2="404.10" y2="348.50" stroke="#666" stroke-width="0.7" />
<text x="401.50" y="350.70" font-size="6.3" font-weight="bold" font-style="normal" text-anchor="end" fill="#000" stroke="#000" stroke-width="0.35" >-6</text>
<line x1="402.10" y1="354.30" x2="404.10" y2="354.30" stroke="#666" stroke-width="0.7" />
<text x="401.50" y="356.50" font-size="6.3" font-weight="bold" font-style="normal" text-anchor="end" fill="#000" stroke="#000" stroke-width="0.35" >-8</text>
<line x1="402.10" y1="360.10" x2="404.10" y2="360.10" stroke="#666" stroke-width="0.7" />
<text x="401.50" y="362.30" font-size="6.3" font-weight="bold" font-style="normal" text-anchor="end" fill="#000" stroke="#000" stroke-width="0.35" >-10</text>
<line x1="402.10" y1="365.90" x2="404.10" y2="365.90" stroke="#666" stroke-width="0.7" />
<text x="401.50" y="368.10" font-size="6.3" font-weight="bold" font-style="normal" text-anchor="end" fill="#000" stroke="#000" stroke-width="0.35" >-12</text>
<text x="387.90" y="330.00" font-size="6.6" font-weight="bold" font-style="normal" text-anchor="middle" fill="#000" textLength="43.50" lengthAdjust="spacingAndGlyphs" transform="rotate(-90 387.90 330.00)" stroke="#000" stroke-width="0.15">relative change</text>
<text x="430.70" y="375.50" font-size="6.4" font-weight="bold" font-style="normal" text-anchor="middle" fill="#000" stroke="#000" stroke-width="0.35" >d. 1</text>
<text x="483.70" y="375.50" font-size="6.4" font-weight="bold" font-style="normal" text-anchor="middle" fill="#000" stroke="#000" stroke-width="0.35" >d. 3</text>
<text x="457.60" y="291.40" font-size="9.0" font-weight="bold" font-style="italic" text-anchor="middle" fill="#0a0a0a" textLength="20.90" lengthAdjust="spacingAndGlyphs" stroke="#0a0a0a" stroke-width="0.35" >Ccl-2</text>
<line x1="279.60" y1="414.30" x2="279.60" y2="488.00" stroke="#999" stroke-width="0.7" />
<line x1="232.00" y1="448.70" x2="325.80" y2="448.70" stroke="#9a9a9a" stroke-width="0.6" />
<line x1="245.30" y1="455.60" x2="245.30" y2="461.40" stroke="#555" stroke-width="0.6" />
<line x1="243.70" y1="461.40" x2="246.90" y2="461.40" stroke="#555" stroke-width="0.6" />
<rect x="240.00" y="453.50" width="10.60" height="2.10" fill="#0a0a0a" />
<line x1="256.70" y1="470.90" x2="256.70" y2="477.50" stroke="#6868f0" stroke-width="0.6" />
<line x1="255.10" y1="477.50" x2="258.30" y2="477.50" stroke="#6868f0" stroke-width="0.6" />
<rect x="251.40" y="453.50" width="10.60" height="17.40" fill="#0b0be6" />
<line x1="268.55" y1="430.90" x2="268.55" y2="422.30" stroke="#f07080" stroke-width="0.6" />
<line x1="266.95" y1="422.30" x2="270.15" y2="422.30" stroke="#f07080" stroke-width="0.6" />
<rect x="263.20" y="430.90" width="10.70" height="22.60" fill="#ec1c24" />
<line x1="291.00" y1="433.10" x2="291.00" y2="427.40" stroke="#555" stroke-width="0.6" />
<line x1="289.40" y1="427.40" x2="292.60" y2="427.40" stroke="#555" stroke-width="0.6" />
<rect x="285.70" y="433.10" width="10.60" height="20.40" fill="#0a0a0a" />
<line x1="302.60" y1="460.80" x2="302.60" y2="473.20" stroke="#6868f0" stroke-width="0.6" />
<line x1="301.00" y1="473.20" x2="304.20" y2="473.20" stroke="#6868f0" stroke-width="0.6" />
<rect x="297.40" y="453.50" width="10.40" height="7.30" fill="#0b0be6" />
<line x1="314.60" y1="441.30" x2="314.60" y2="432.20" stroke="#f07080" stroke-width="0.6" />
<line x1="313.00" y1="432.20" x2="316.20" y2="432.20" stroke="#f07080" stroke-width="0.6" />
<rect x="309.20" y="441.30" width="10.80" height="12.20" fill="#ec1c24" />
<line x1="232.30" y1="453.50" x2="325.80" y2="453.50" stroke="#000" stroke-width="1.15" />
<line x1="233.50" y1="476.50" x2="325.80" y2="476.50" stroke="#777" stroke-width="0.9" />
<line x1="256.70" y1="476.50" x2="256.70" y2="478.50" stroke="#777" stroke-width="0.7" />
<line x1="302.90" y1="476.50" x2="302.90" y2="478.50" stroke="#777" stroke-width="0.7" />
<line x1="233.50" y1="414.10" x2="233.50" y2="476.50" stroke="#666" stroke-width="0.9" />
<line x1="231.50" y1="415.42" x2="233.50" y2="415.42" stroke="#666" stroke-width="0.7" />
<text x="230.90" y="417.62" font-size="5.5" font-weight="bold" font-style="normal" text-anchor="end" fill="#000" stroke="#000" stroke-width="0.35" >8</text>
<line x1="231.50" y1="424.94" x2="233.50" y2="424.94" stroke="#666" stroke-width="0.7" />
<text x="230.90" y="427.14" font-size="5.5" font-weight="bold" font-style="normal" text-anchor="end" fill="#000" stroke="#000" stroke-width="0.35" >6</text>
<line x1="231.50" y1="434.46" x2="233.50" y2="434.46" stroke="#666" stroke-width="0.7" />
<text x="230.90" y="436.66" font-size="5.5" font-weight="bold" font-style="normal" text-anchor="end" fill="#000" stroke="#000" stroke-width="0.35" >4</text>
<line x1="231.50" y1="443.98" x2="233.50" y2="443.98" stroke="#666" stroke-width="0.7" />
<text x="230.90" y="446.18" font-size="5.5" font-weight="bold" font-style="normal" text-anchor="end" fill="#000" stroke="#000" stroke-width="0.35" >2</text>
<line x1="231.50" y1="453.50" x2="233.50" y2="453.50" stroke="#666" stroke-width="0.7" />
<text x="230.90" y="455.70" font-size="5.5" font-weight="bold" font-style="normal" text-anchor="end" fill="#000" stroke="#000" stroke-width="0.35" >0</text>
<line x1="231.50" y1="463.02" x2="233.50" y2="463.02" stroke="#666" stroke-width="0.7" />
<text x="230.90" y="465.22" font-size="5.5" font-weight="bold" font-style="normal" text-anchor="end" fill="#000" stroke="#000" stroke-width="0.35" >-2</text>
<line x1="231.50" y1="472.54" x2="233.50" y2="472.54" stroke="#666" stroke-width="0.7" />
<text x="230.90" y="474.74" font-size="5.5" font-weight="bold" font-style="normal" text-anchor="end" fill="#000" stroke="#000" stroke-width="0.35" >-4</text>
<text x="221.70" y="445.40" font-size="5.9" font-weight="bold" font-style="normal" text-anchor="middle" fill="#000" textLength="39.60" lengthAdjust="spacingAndGlyphs" transform="rotate(-90 221.70 445.40)" stroke="#000" stroke-width="0.15">relative change</text>
<text x="256.70" y="484.90" font-size="6.4" font-weight="bold" font-style="normal" text-anchor="middle" fill="#000" stroke="#000" stroke-width="0.35" >d. 1</text>
<text x="302.90" y="484.90" font-size="6.4" font-weight="bold" font-style="normal" text-anchor="middle" fill="#000" stroke="#000" stroke-width="0.35" >d. 3</text>
<text x="280.40" y="412.10" font-size="8.0" font-weight="bold" font-style="italic" text-anchor="middle" fill="#0a0a0a" textLength="9.20" lengthAdjust="spacingAndGlyphs" stroke="#0a0a0a" stroke-width="0.35" >C3</text>
<line x1="397.60" y1="414.00" x2="397.60" y2="488.00" stroke="#999" stroke-width="0.7" />
<line x1="349.90" y1="457.90" x2="444.00" y2="457.90" stroke="#9a9a9a" stroke-width="0.6" />
<line x1="363.10" y1="454.70" x2="363.10" y2="453.60" stroke="#555" stroke-width="0.6" />
<line x1="361.50" y1="453.60" x2="364.70" y2="453.60" stroke="#555" stroke-width="0.6" />
<rect x="357.70" y="454.70" width="10.80" height="7.00" fill="#0a0a0a" />
<line x1="374.40" y1="460.80" x2="374.40" y2="457.00" stroke="#6868f0" stroke-width="0.6" />
<line x1="372.80" y1="457.00" x2="376.00" y2="457.00" stroke="#6868f0" stroke-width="0.6" />
<rect x="369.10" y="460.80" width="10.60" height="0.90" fill="#0b0be6" />
<line x1="386.65" y1="429.70" x2="386.65" y2="417.90" stroke="#f07080" stroke-width="0.6" />
<line x1="385.05" y1="417.90" x2="388.25" y2="417.90" stroke="#f07080" stroke-width="0.6" />
<rect x="381.30" y="429.70" width="10.70" height="32.00" fill="#ec1c24" />
<line x1="409.10" y1="448.00" x2="409.10" y2="441.70" stroke="#555" stroke-width="0.6" />
<line x1="407.50" y1="441.70" x2="410.70" y2="441.70" stroke="#555" stroke-width="0.6" />
<rect x="403.80" y="448.00" width="10.60" height="13.70" fill="#0a0a0a" />
<line x1="420.95" y1="468.40" x2="420.95" y2="476.00" stroke="#6868f0" stroke-width="0.6" />
<line x1="419.35" y1="476.00" x2="422.55" y2="476.00" stroke="#6868f0" stroke-width="0.6" />
<rect x="415.70" y="461.70" width="10.50" height="6.70" fill="#0b0be6" />
<rect x="427.20" y="429.40" width="10.50" height="32.30" fill="#ec1c24" />
<line x1="350.20" y1="461.70" x2="444.00" y2="461.70" stroke="#000" stroke-width="1.15" />
<line x1="351.40" y1="477.00" x2="444.00" y2="477.00" stroke="#777" stroke-width="0.9" />
<line x1="374.80" y1="477.00" x2="374.80" y2="479.00" stroke="#777" stroke-width="0.7" />
<line x1="420.50" y1="477.00" x2="420.50" y2="479.00" stroke="#777" stroke-width="0.7" />
<line x1="351.40" y1="414.10" x2="351.40" y2="477.00" stroke="#666" stroke-width="0.9" />
<line x1="349.40" y1="415.74" x2="351.40" y2="415.74" stroke="#666" stroke-width="0.7" />
<text x="348.80" y="417.94" font-size="5.5" font-weight="bold" font-style="normal" text-anchor="end" fill="#000" stroke="#000" stroke-width="0.35" >12</text>
<line x1="349.40" y1="423.40" x2="351.40" y2="423.40" stroke="#666" stroke-width="0.7" />
<text x="348.80" y="425.60" font-size="5.5" font-weight="bold" font-style="normal" text-anchor="end" fill="#000" stroke="#000" stroke-width="0.35" >10</text>
<line x1="349.40" y1="431.06" x2="351.40" y2="431.06" stroke="#666" stroke-width="0.7" />
<text x="348.80" y="433.26" font-size="5.5" font-weight="bold" font-style="normal" text-anchor="end" fill="#000" stroke="#000" stroke-width="0.35" >8</text>
<line x1="349.40" y1="438.72" x2="351.40" y2="438.72" stroke="#666" stroke-width="0.7" />
<text x="348.80" y="440.92" font-size="5.5" font-weight="bold" font-style="normal" text-anchor="end" fill="#000" stroke="#000" stroke-width="0.35" >6</text>
<line x1="349.40" y1="446.38" x2="351.40" y2="446.38" stroke="#666" stroke-width="0.7" />
<text x="348.80" y="448.58" font-size="5.5" font-weight="bold" font-style="normal" text-anchor="end" fill="#000" stroke="#000" stroke-width="0.35" >4</text>
<line x1="349.40" y1="454.04" x2="351.40" y2="454.04" stroke="#666" stroke-width="0.7" />
<text x="348.80" y="456.24" font-size="5.5" font-weight="bold" font-style="normal" text-anchor="end" fill="#000" stroke="#000" stroke-width="0.35" >2</text>
<line x1="349.40" y1="461.70" x2="351.40" y2="461.70" stroke="#666" stroke-width="0.7" />
<text x="348.80" y="463.90" font-size="5.5" font-weight="bold" font-style="normal" text-anchor="end" fill="#000" stroke="#000" stroke-width="0.35" >0</text>
<line x1="349.40" y1="469.36" x2="351.40" y2="469.36" stroke="#666" stroke-width="0.7" />
<text x="348.80" y="471.56" font-size="5.5" font-weight="bold" font-style="normal" text-anchor="end" fill="#000" stroke="#000" stroke-width="0.35" >-2</text>
<line x1="349.40" y1="477.02" x2="351.40" y2="477.02" stroke="#666" stroke-width="0.7" />
<text x="348.80" y="479.22" font-size="5.5" font-weight="bold" font-style="normal" text-anchor="end" fill="#000" stroke="#000" stroke-width="0.35" >-4</text>
<text x="337.80" y="445.40" font-size="5.9" font-weight="bold" font-style="normal" text-anchor="middle" fill="#000" textLength="39.60" lengthAdjust="spacingAndGlyphs" transform="rotate(-90 337.80 445.40)" stroke="#000" stroke-width="0.15">relative change</text>
<text x="374.80" y="484.90" font-size="6.4" font-weight="bold" font-style="normal" text-anchor="middle" fill="#000" stroke="#000" stroke-width="0.35" >d. 1</text>
<text x="420.50" y="484.90" font-size="6.4" font-weight="bold" font-style="normal" text-anchor="middle" fill="#000" stroke="#000" stroke-width="0.35" >d. 3</text>
<text x="398.00" y="413.20" font-size="8.2" font-weight="bold" font-style="italic" text-anchor="middle" fill="#0a0a0a" textLength="18.40" lengthAdjust="spacingAndGlyphs" stroke="#0a0a0a" stroke-width="0.35" >C3ar1</text>
<polyline points="362.20,414.40 362.20,412.40 387.40,412.40 387.40,414.40" fill="none" stroke="#555" stroke-width="0.55"/>
<circle cx="373.40" cy="410.60" r="0.75" fill="#222"/>
<polyline points="375.10,417.40 375.10,415.40 386.80,415.40 386.80,417.40" fill="none" stroke="#555" stroke-width="0.55"/>
<circle cx="381.40" cy="414.10" r="0.75" fill="#222"/>
<polyline points="419.00,427.80 419.00,425.80 432.70,425.80 432.70,427.80" fill="none" stroke="#555" stroke-width="0.55"/>
<circle cx="426.00" cy="423.40" r="0.75" fill="#222"/>
<rect x="459.20" y="401.70" width="12.10" height="6.80" fill="#050505" />
<rect x="459.20" y="413.80" width="12.10" height="7.00" fill="#0b0be6" />
<rect x="459.20" y="425.70" width="12.10" height="6.70" fill="#ec1c24" />
<text x="476.90" y="407.60" font-size="7.4" font-weight="bold" font-style="normal" text-anchor="start" fill="#000" textLength="34.30" lengthAdjust="spacingAndGlyphs" stroke="#000" stroke-width="0.35" >gr 1 MPL</text>
<text x="476.90" y="419.60" font-size="7.4" font-weight="bold" font-style="normal" text-anchor="start" fill="#000" textLength="39.70" lengthAdjust="spacingAndGlyphs" stroke="#000" stroke-width="0.35" >gr 2 R-848</text>
<text x="476.90" y="432.00" font-size="7.4" font-weight="bold" font-style="normal" text-anchor="start" fill="#000" textLength="34.30" lengthAdjust="spacingAndGlyphs" stroke="#000" stroke-width="0.35" >gr 3 CpG</text>
</svg>
</body></html>
